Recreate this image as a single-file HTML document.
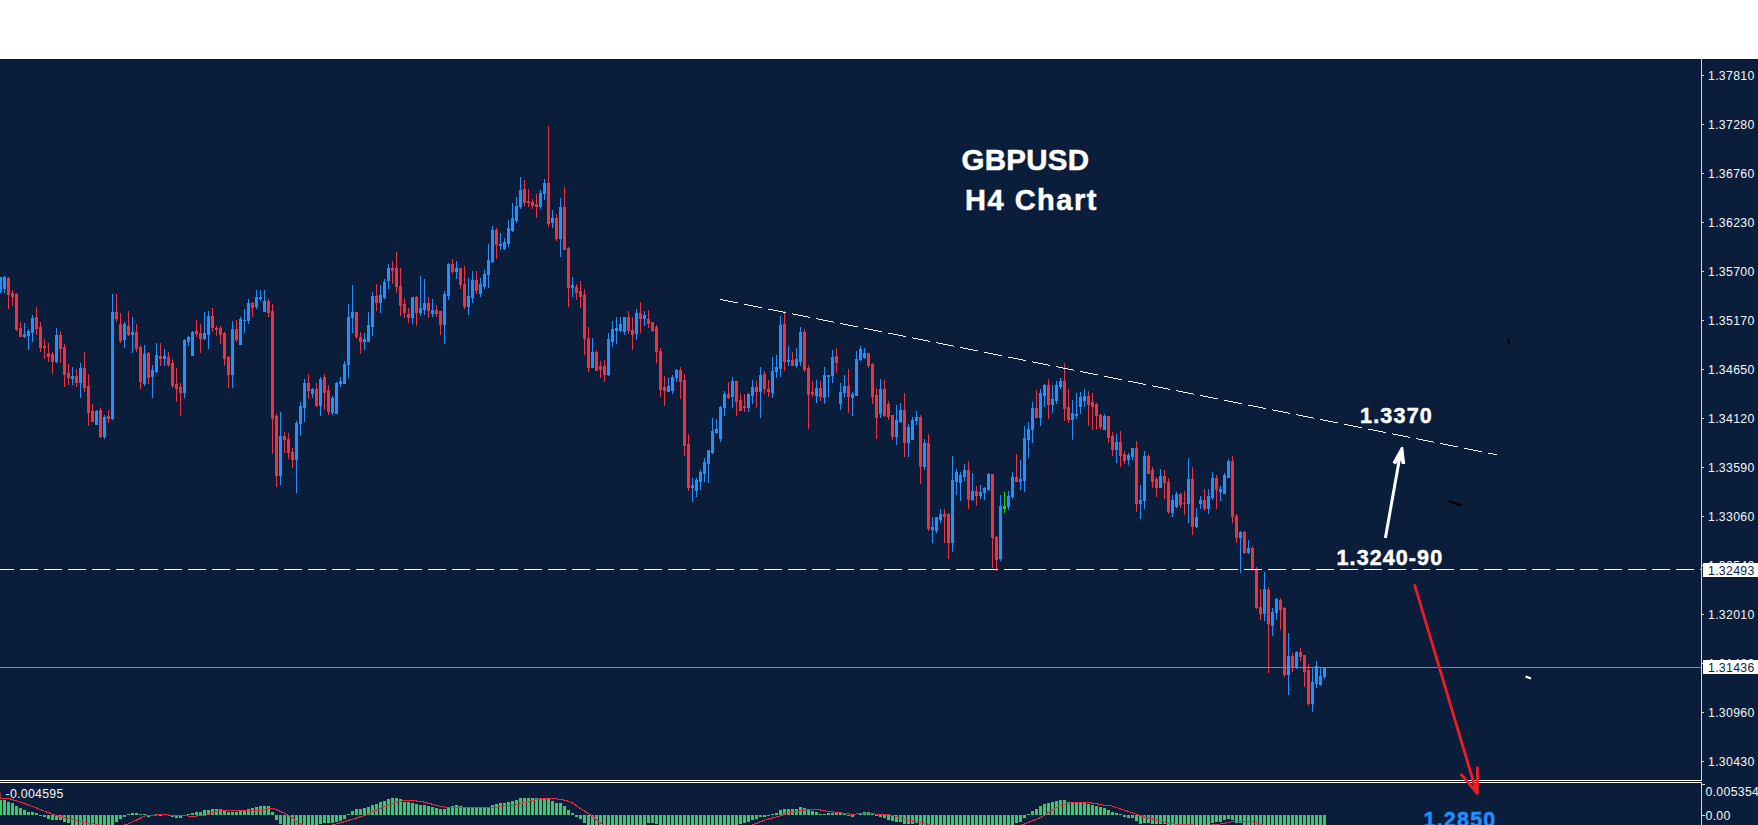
<!DOCTYPE html>
<html><head><meta charset="utf-8"><title>GBPUSD H4</title>
<style>
html,body{margin:0;padding:0;width:1758px;height:825px;overflow:hidden;background:#ffffff}
svg{display:block;position:absolute;left:0;top:0}
text{font-family:"Liberation Sans",sans-serif}
</style></head><body>
<svg width="1758" height="825" viewBox="0 0 1758 825">
<rect x="0" y="0" width="1758" height="59" fill="#ffffff"/>
<rect x="0" y="59" width="1758" height="766" fill="#0a1e3c"/>
<rect x="0" y="59" width="1758" height="1" fill="#041533"/>
<g shape-rendering="crispEdges">
<rect x="0" y="277" width="1" height="16" fill="#2490fa"/>
<rect x="-1" y="277" width="3" height="15" fill="#2490fa"/>
<rect x="4" y="276" width="1" height="17" fill="#2490fa"/>
<rect x="3" y="277" width="3" height="12" fill="#2490fa"/>
<rect x="8" y="277" width="1" height="32" fill="#ee3340"/>
<rect x="7" y="278" width="3" height="17" fill="#ee3340"/>
<rect x="12" y="290" width="1" height="16" fill="#ee3340"/>
<rect x="11" y="293" width="3" height="4" fill="#ee3340"/>
<rect x="16" y="293" width="1" height="38" fill="#ee3340"/>
<rect x="15" y="294" width="3" height="36" fill="#ee3340"/>
<rect x="20" y="322" width="1" height="15" fill="#ee3340"/>
<rect x="19" y="328" width="3" height="9" fill="#ee3340"/>
<rect x="24" y="323" width="1" height="15" fill="#2490fa"/>
<rect x="23" y="334" width="3" height="3" fill="#2490fa"/>
<rect x="28" y="329" width="1" height="21" fill="#2490fa"/>
<rect x="27" y="331" width="3" height="5" fill="#2490fa"/>
<rect x="32" y="315" width="1" height="27" fill="#2490fa"/>
<rect x="31" y="318" width="3" height="15" fill="#2490fa"/>
<rect x="36" y="307" width="1" height="28" fill="#ee3340"/>
<rect x="35" y="317" width="3" height="12" fill="#ee3340"/>
<rect x="40" y="322" width="1" height="30" fill="#ee3340"/>
<rect x="39" y="327" width="3" height="21" fill="#ee3340"/>
<rect x="44" y="339" width="1" height="20" fill="#ee3340"/>
<rect x="43" y="346" width="3" height="2" fill="#ee3340"/>
<rect x="48" y="343" width="1" height="19" fill="#ee3340"/>
<rect x="47" y="353" width="3" height="4" fill="#ee3340"/>
<rect x="52" y="352" width="1" height="22" fill="#ee3340"/>
<rect x="51" y="354" width="3" height="8" fill="#ee3340"/>
<rect x="56" y="328" width="1" height="35" fill="#2490fa"/>
<rect x="55" y="335" width="3" height="27" fill="#2490fa"/>
<rect x="60" y="331" width="1" height="32" fill="#ee3340"/>
<rect x="59" y="335" width="3" height="14" fill="#ee3340"/>
<rect x="64" y="344" width="1" height="43" fill="#ee3340"/>
<rect x="63" y="347" width="3" height="28" fill="#ee3340"/>
<rect x="68" y="364" width="1" height="21" fill="#ee3340"/>
<rect x="67" y="373" width="3" height="5" fill="#ee3340"/>
<rect x="72" y="367" width="1" height="18" fill="#2490fa"/>
<rect x="71" y="376" width="3" height="3" fill="#2490fa"/>
<rect x="76" y="369" width="1" height="18" fill="#ee3340"/>
<rect x="75" y="376" width="3" height="7" fill="#ee3340"/>
<rect x="80" y="363" width="1" height="35" fill="#2490fa"/>
<rect x="79" y="368" width="3" height="15" fill="#2490fa"/>
<rect x="84" y="352" width="1" height="40" fill="#ee3340"/>
<rect x="83" y="368" width="3" height="20" fill="#ee3340"/>
<rect x="88" y="374" width="1" height="52" fill="#ee3340"/>
<rect x="87" y="386" width="3" height="27" fill="#ee3340"/>
<rect x="92" y="404" width="1" height="18" fill="#ee3340"/>
<rect x="91" y="411" width="3" height="11" fill="#ee3340"/>
<rect x="96" y="410" width="1" height="15" fill="#2490fa"/>
<rect x="95" y="411" width="3" height="14" fill="#2490fa"/>
<rect x="100" y="408" width="1" height="30" fill="#ee3340"/>
<rect x="99" y="410" width="3" height="27" fill="#ee3340"/>
<rect x="104" y="415" width="1" height="24" fill="#2490fa"/>
<rect x="103" y="417" width="3" height="20" fill="#2490fa"/>
<rect x="108" y="410" width="1" height="13" fill="#ee3340"/>
<rect x="107" y="416" width="3" height="3" fill="#ee3340"/>
<rect x="112" y="294" width="1" height="126" fill="#2490fa"/>
<rect x="111" y="312" width="3" height="107" fill="#2490fa"/>
<rect x="116" y="294" width="1" height="28" fill="#ee3340"/>
<rect x="115" y="312" width="3" height="7" fill="#ee3340"/>
<rect x="120" y="313" width="1" height="30" fill="#ee3340"/>
<rect x="119" y="324" width="3" height="17" fill="#ee3340"/>
<rect x="124" y="322" width="1" height="26" fill="#2490fa"/>
<rect x="123" y="324" width="3" height="16" fill="#2490fa"/>
<rect x="128" y="311" width="1" height="25" fill="#ee3340"/>
<rect x="127" y="326" width="3" height="9" fill="#ee3340"/>
<rect x="132" y="317" width="1" height="36" fill="#2490fa"/>
<rect x="131" y="332" width="3" height="3" fill="#2490fa"/>
<rect x="136" y="324" width="1" height="28" fill="#ee3340"/>
<rect x="135" y="332" width="3" height="17" fill="#ee3340"/>
<rect x="140" y="345" width="1" height="44" fill="#ee3340"/>
<rect x="139" y="347" width="3" height="35" fill="#ee3340"/>
<rect x="144" y="345" width="1" height="41" fill="#2490fa"/>
<rect x="143" y="354" width="3" height="30" fill="#2490fa"/>
<rect x="148" y="352" width="1" height="32" fill="#ee3340"/>
<rect x="147" y="353" width="3" height="25" fill="#ee3340"/>
<rect x="152" y="365" width="1" height="33" fill="#2490fa"/>
<rect x="151" y="370" width="3" height="7" fill="#2490fa"/>
<rect x="156" y="343" width="1" height="30" fill="#2490fa"/>
<rect x="155" y="355" width="3" height="17" fill="#2490fa"/>
<rect x="160" y="343" width="1" height="23" fill="#ee3340"/>
<rect x="159" y="356" width="3" height="3" fill="#ee3340"/>
<rect x="164" y="349" width="1" height="17" fill="#2490fa"/>
<rect x="163" y="356" width="3" height="3" fill="#2490fa"/>
<rect x="168" y="352" width="1" height="15" fill="#ee3340"/>
<rect x="167" y="357" width="3" height="8" fill="#ee3340"/>
<rect x="172" y="359" width="1" height="29" fill="#ee3340"/>
<rect x="171" y="363" width="3" height="23" fill="#ee3340"/>
<rect x="176" y="368" width="1" height="34" fill="#ee3340"/>
<rect x="175" y="384" width="3" height="5" fill="#ee3340"/>
<rect x="180" y="383" width="1" height="33" fill="#ee3340"/>
<rect x="179" y="387" width="3" height="6" fill="#ee3340"/>
<rect x="184" y="339" width="1" height="59" fill="#2490fa"/>
<rect x="183" y="340" width="3" height="53" fill="#2490fa"/>
<rect x="188" y="336" width="1" height="10" fill="#2490fa"/>
<rect x="187" y="337" width="3" height="5" fill="#2490fa"/>
<rect x="192" y="331" width="1" height="25" fill="#2490fa"/>
<rect x="191" y="332" width="3" height="24" fill="#2490fa"/>
<rect x="196" y="320" width="1" height="17" fill="#ee3340"/>
<rect x="195" y="331" width="3" height="3" fill="#ee3340"/>
<rect x="200" y="324" width="1" height="29" fill="#ee3340"/>
<rect x="199" y="333" width="3" height="6" fill="#ee3340"/>
<rect x="204" y="312" width="1" height="28" fill="#2490fa"/>
<rect x="203" y="333" width="3" height="6" fill="#2490fa"/>
<rect x="208" y="311" width="1" height="38" fill="#2490fa"/>
<rect x="207" y="316" width="3" height="19" fill="#2490fa"/>
<rect x="212" y="308" width="1" height="24" fill="#ee3340"/>
<rect x="211" y="316" width="3" height="12" fill="#ee3340"/>
<rect x="216" y="326" width="1" height="10" fill="#ee3340"/>
<rect x="215" y="328" width="3" height="2" fill="#ee3340"/>
<rect x="220" y="326" width="1" height="18" fill="#ee3340"/>
<rect x="219" y="328" width="3" height="7" fill="#ee3340"/>
<rect x="224" y="332" width="1" height="34" fill="#ee3340"/>
<rect x="223" y="333" width="3" height="26" fill="#ee3340"/>
<rect x="228" y="356" width="1" height="32" fill="#ee3340"/>
<rect x="227" y="357" width="3" height="18" fill="#ee3340"/>
<rect x="232" y="321" width="1" height="67" fill="#2490fa"/>
<rect x="231" y="329" width="3" height="46" fill="#2490fa"/>
<rect x="236" y="320" width="1" height="22" fill="#ee3340"/>
<rect x="235" y="329" width="3" height="11" fill="#ee3340"/>
<rect x="240" y="317" width="1" height="28" fill="#2490fa"/>
<rect x="239" y="319" width="3" height="26" fill="#2490fa"/>
<rect x="244" y="309" width="1" height="24" fill="#2490fa"/>
<rect x="243" y="320" width="3" height="1" fill="#2490fa"/>
<rect x="248" y="299" width="1" height="25" fill="#2490fa"/>
<rect x="247" y="303" width="3" height="18" fill="#2490fa"/>
<rect x="252" y="302" width="1" height="15" fill="#ee3340"/>
<rect x="251" y="303" width="3" height="5" fill="#ee3340"/>
<rect x="256" y="290" width="1" height="19" fill="#2490fa"/>
<rect x="255" y="297" width="3" height="10" fill="#2490fa"/>
<rect x="260" y="290" width="1" height="11" fill="#2490fa"/>
<rect x="259" y="297" width="3" height="2" fill="#2490fa"/>
<rect x="264" y="290" width="1" height="22" fill="#2490fa"/>
<rect x="263" y="301" width="3" height="11" fill="#2490fa"/>
<rect x="268" y="299" width="1" height="18" fill="#ee3340"/>
<rect x="267" y="301" width="3" height="12" fill="#ee3340"/>
<rect x="272" y="304" width="1" height="150" fill="#ee3340"/>
<rect x="271" y="311" width="3" height="108" fill="#ee3340"/>
<rect x="276" y="414" width="1" height="73" fill="#ee3340"/>
<rect x="275" y="416" width="3" height="60" fill="#ee3340"/>
<rect x="280" y="412" width="1" height="73" fill="#2490fa"/>
<rect x="279" y="436" width="3" height="40" fill="#2490fa"/>
<rect x="284" y="432" width="1" height="21" fill="#ee3340"/>
<rect x="283" y="436" width="3" height="4" fill="#ee3340"/>
<rect x="288" y="433" width="1" height="26" fill="#ee3340"/>
<rect x="287" y="439" width="3" height="14" fill="#ee3340"/>
<rect x="292" y="448" width="1" height="20" fill="#ee3340"/>
<rect x="291" y="452" width="3" height="8" fill="#ee3340"/>
<rect x="296" y="421" width="1" height="72" fill="#2490fa"/>
<rect x="295" y="423" width="3" height="37" fill="#2490fa"/>
<rect x="300" y="402" width="1" height="34" fill="#2490fa"/>
<rect x="299" y="406" width="3" height="18" fill="#2490fa"/>
<rect x="304" y="379" width="1" height="43" fill="#2490fa"/>
<rect x="303" y="383" width="3" height="25" fill="#2490fa"/>
<rect x="308" y="374" width="1" height="25" fill="#ee3340"/>
<rect x="307" y="383" width="3" height="8" fill="#ee3340"/>
<rect x="312" y="388" width="1" height="10" fill="#2490fa"/>
<rect x="311" y="389" width="3" height="5" fill="#2490fa"/>
<rect x="316" y="383" width="1" height="24" fill="#ee3340"/>
<rect x="315" y="389" width="3" height="17" fill="#ee3340"/>
<rect x="320" y="377" width="1" height="39" fill="#2490fa"/>
<rect x="319" y="379" width="3" height="27" fill="#2490fa"/>
<rect x="324" y="374" width="1" height="36" fill="#ee3340"/>
<rect x="323" y="377" width="3" height="16" fill="#ee3340"/>
<rect x="328" y="385" width="1" height="30" fill="#ee3340"/>
<rect x="327" y="390" width="3" height="22" fill="#ee3340"/>
<rect x="332" y="396" width="1" height="19" fill="#2490fa"/>
<rect x="331" y="398" width="3" height="15" fill="#2490fa"/>
<rect x="336" y="382" width="1" height="32" fill="#2490fa"/>
<rect x="335" y="383" width="3" height="31" fill="#2490fa"/>
<rect x="340" y="377" width="1" height="10" fill="#2490fa"/>
<rect x="339" y="381" width="3" height="3" fill="#2490fa"/>
<rect x="344" y="361" width="1" height="23" fill="#2490fa"/>
<rect x="343" y="364" width="3" height="20" fill="#2490fa"/>
<rect x="348" y="304" width="1" height="74" fill="#2490fa"/>
<rect x="347" y="317" width="3" height="48" fill="#2490fa"/>
<rect x="352" y="285" width="1" height="48" fill="#2490fa"/>
<rect x="351" y="312" width="3" height="6" fill="#2490fa"/>
<rect x="356" y="312" width="1" height="27" fill="#ee3340"/>
<rect x="355" y="312" width="3" height="25" fill="#ee3340"/>
<rect x="360" y="332" width="1" height="22" fill="#ee3340"/>
<rect x="359" y="337" width="3" height="5" fill="#ee3340"/>
<rect x="364" y="333" width="1" height="17" fill="#2490fa"/>
<rect x="363" y="339" width="3" height="3" fill="#2490fa"/>
<rect x="368" y="312" width="1" height="30" fill="#2490fa"/>
<rect x="367" y="325" width="3" height="17" fill="#2490fa"/>
<rect x="372" y="292" width="1" height="44" fill="#2490fa"/>
<rect x="371" y="296" width="3" height="31" fill="#2490fa"/>
<rect x="376" y="284" width="1" height="27" fill="#ee3340"/>
<rect x="375" y="296" width="3" height="7" fill="#ee3340"/>
<rect x="380" y="285" width="1" height="28" fill="#2490fa"/>
<rect x="379" y="295" width="3" height="8" fill="#2490fa"/>
<rect x="384" y="279" width="1" height="20" fill="#2490fa"/>
<rect x="383" y="282" width="3" height="16" fill="#2490fa"/>
<rect x="388" y="264" width="1" height="25" fill="#2490fa"/>
<rect x="387" y="268" width="3" height="13" fill="#2490fa"/>
<rect x="392" y="261" width="1" height="23" fill="#ee3340"/>
<rect x="391" y="268" width="3" height="3" fill="#ee3340"/>
<rect x="396" y="252" width="1" height="41" fill="#ee3340"/>
<rect x="395" y="268" width="3" height="19" fill="#ee3340"/>
<rect x="400" y="268" width="1" height="48" fill="#ee3340"/>
<rect x="399" y="286" width="3" height="20" fill="#ee3340"/>
<rect x="404" y="298" width="1" height="20" fill="#ee3340"/>
<rect x="403" y="304" width="3" height="9" fill="#ee3340"/>
<rect x="408" y="308" width="1" height="15" fill="#ee3340"/>
<rect x="407" y="314" width="3" height="4" fill="#ee3340"/>
<rect x="412" y="297" width="1" height="27" fill="#2490fa"/>
<rect x="411" y="297" width="3" height="21" fill="#2490fa"/>
<rect x="416" y="296" width="1" height="30" fill="#ee3340"/>
<rect x="415" y="297" width="3" height="16" fill="#ee3340"/>
<rect x="420" y="276" width="1" height="40" fill="#2490fa"/>
<rect x="419" y="308" width="3" height="5" fill="#2490fa"/>
<rect x="424" y="279" width="1" height="36" fill="#2490fa"/>
<rect x="423" y="303" width="3" height="7" fill="#2490fa"/>
<rect x="428" y="297" width="1" height="21" fill="#ee3340"/>
<rect x="427" y="303" width="3" height="8" fill="#ee3340"/>
<rect x="432" y="299" width="1" height="18" fill="#2490fa"/>
<rect x="431" y="310" width="3" height="4" fill="#2490fa"/>
<rect x="436" y="305" width="1" height="12" fill="#ee3340"/>
<rect x="435" y="310" width="3" height="4" fill="#ee3340"/>
<rect x="440" y="311" width="1" height="24" fill="#ee3340"/>
<rect x="439" y="311" width="3" height="14" fill="#ee3340"/>
<rect x="444" y="291" width="1" height="53" fill="#2490fa"/>
<rect x="443" y="294" width="3" height="31" fill="#2490fa"/>
<rect x="448" y="263" width="1" height="37" fill="#2490fa"/>
<rect x="447" y="264" width="3" height="32" fill="#2490fa"/>
<rect x="452" y="259" width="1" height="15" fill="#ee3340"/>
<rect x="451" y="264" width="3" height="8" fill="#ee3340"/>
<rect x="456" y="261" width="1" height="18" fill="#2490fa"/>
<rect x="455" y="268" width="3" height="4" fill="#2490fa"/>
<rect x="460" y="268" width="1" height="21" fill="#ee3340"/>
<rect x="459" y="268" width="3" height="17" fill="#ee3340"/>
<rect x="464" y="266" width="1" height="43" fill="#ee3340"/>
<rect x="463" y="284" width="3" height="23" fill="#ee3340"/>
<rect x="468" y="278" width="1" height="37" fill="#2490fa"/>
<rect x="467" y="296" width="3" height="11" fill="#2490fa"/>
<rect x="472" y="271" width="1" height="32" fill="#2490fa"/>
<rect x="471" y="280" width="3" height="18" fill="#2490fa"/>
<rect x="476" y="271" width="1" height="23" fill="#ee3340"/>
<rect x="475" y="280" width="3" height="11" fill="#ee3340"/>
<rect x="480" y="278" width="1" height="19" fill="#2490fa"/>
<rect x="479" y="284" width="3" height="10" fill="#2490fa"/>
<rect x="484" y="270" width="1" height="19" fill="#2490fa"/>
<rect x="483" y="274" width="3" height="13" fill="#2490fa"/>
<rect x="488" y="244" width="1" height="44" fill="#2490fa"/>
<rect x="487" y="260" width="3" height="15" fill="#2490fa"/>
<rect x="492" y="226" width="1" height="37" fill="#2490fa"/>
<rect x="491" y="230" width="3" height="32" fill="#2490fa"/>
<rect x="496" y="228" width="1" height="31" fill="#ee3340"/>
<rect x="495" y="230" width="3" height="15" fill="#ee3340"/>
<rect x="500" y="233" width="1" height="17" fill="#2490fa"/>
<rect x="499" y="244" width="3" height="2" fill="#2490fa"/>
<rect x="504" y="238" width="1" height="12" fill="#2490fa"/>
<rect x="503" y="242" width="3" height="7" fill="#2490fa"/>
<rect x="508" y="220" width="1" height="27" fill="#2490fa"/>
<rect x="507" y="228" width="3" height="16" fill="#2490fa"/>
<rect x="512" y="203" width="1" height="29" fill="#2490fa"/>
<rect x="511" y="218" width="3" height="13" fill="#2490fa"/>
<rect x="516" y="197" width="1" height="26" fill="#2490fa"/>
<rect x="515" y="206" width="3" height="15" fill="#2490fa"/>
<rect x="520" y="177" width="1" height="32" fill="#2490fa"/>
<rect x="519" y="190" width="3" height="17" fill="#2490fa"/>
<rect x="524" y="180" width="1" height="26" fill="#ee3340"/>
<rect x="523" y="189" width="3" height="14" fill="#ee3340"/>
<rect x="528" y="189" width="1" height="18" fill="#ee3340"/>
<rect x="527" y="201" width="3" height="2" fill="#ee3340"/>
<rect x="532" y="199" width="1" height="10" fill="#ee3340"/>
<rect x="531" y="202" width="3" height="4" fill="#ee3340"/>
<rect x="536" y="194" width="1" height="24" fill="#ee3340"/>
<rect x="535" y="204" width="3" height="3" fill="#ee3340"/>
<rect x="540" y="190" width="1" height="19" fill="#2490fa"/>
<rect x="539" y="193" width="3" height="14" fill="#2490fa"/>
<rect x="544" y="179" width="1" height="21" fill="#2490fa"/>
<rect x="543" y="183" width="3" height="11" fill="#2490fa"/>
<rect x="548" y="126" width="1" height="101" fill="#ee3340"/>
<rect x="547" y="183" width="3" height="41" fill="#ee3340"/>
<rect x="552" y="210" width="1" height="18" fill="#2490fa"/>
<rect x="551" y="218" width="3" height="5" fill="#2490fa"/>
<rect x="556" y="214" width="1" height="27" fill="#ee3340"/>
<rect x="555" y="218" width="3" height="21" fill="#ee3340"/>
<rect x="560" y="198" width="1" height="59" fill="#2490fa"/>
<rect x="559" y="207" width="3" height="32" fill="#2490fa"/>
<rect x="564" y="187" width="1" height="63" fill="#ee3340"/>
<rect x="563" y="207" width="3" height="43" fill="#ee3340"/>
<rect x="568" y="247" width="1" height="60" fill="#ee3340"/>
<rect x="567" y="248" width="3" height="40" fill="#ee3340"/>
<rect x="572" y="277" width="1" height="20" fill="#2490fa"/>
<rect x="571" y="285" width="3" height="3" fill="#2490fa"/>
<rect x="576" y="284" width="1" height="16" fill="#ee3340"/>
<rect x="575" y="287" width="3" height="6" fill="#ee3340"/>
<rect x="580" y="281" width="1" height="27" fill="#ee3340"/>
<rect x="579" y="291" width="3" height="6" fill="#ee3340"/>
<rect x="584" y="289" width="1" height="66" fill="#ee3340"/>
<rect x="583" y="295" width="3" height="44" fill="#ee3340"/>
<rect x="588" y="327" width="1" height="45" fill="#ee3340"/>
<rect x="587" y="338" width="3" height="30" fill="#ee3340"/>
<rect x="592" y="338" width="1" height="30" fill="#2490fa"/>
<rect x="591" y="352" width="3" height="16" fill="#2490fa"/>
<rect x="596" y="350" width="1" height="21" fill="#ee3340"/>
<rect x="595" y="352" width="3" height="19" fill="#ee3340"/>
<rect x="600" y="361" width="1" height="17" fill="#ee3340"/>
<rect x="599" y="366" width="3" height="4" fill="#ee3340"/>
<rect x="604" y="360" width="1" height="22" fill="#ee3340"/>
<rect x="603" y="366" width="3" height="9" fill="#ee3340"/>
<rect x="608" y="333" width="1" height="43" fill="#2490fa"/>
<rect x="607" y="339" width="3" height="36" fill="#2490fa"/>
<rect x="612" y="321" width="1" height="26" fill="#2490fa"/>
<rect x="611" y="329" width="3" height="13" fill="#2490fa"/>
<rect x="616" y="317" width="1" height="27" fill="#2490fa"/>
<rect x="615" y="328" width="3" height="3" fill="#2490fa"/>
<rect x="620" y="317" width="1" height="15" fill="#2490fa"/>
<rect x="619" y="324" width="3" height="7" fill="#2490fa"/>
<rect x="624" y="317" width="1" height="18" fill="#2490fa"/>
<rect x="623" y="317" width="3" height="15" fill="#2490fa"/>
<rect x="628" y="311" width="1" height="23" fill="#ee3340"/>
<rect x="627" y="317" width="3" height="14" fill="#ee3340"/>
<rect x="632" y="317" width="1" height="33" fill="#ee3340"/>
<rect x="631" y="330" width="3" height="5" fill="#ee3340"/>
<rect x="636" y="309" width="1" height="31" fill="#2490fa"/>
<rect x="635" y="313" width="3" height="21" fill="#2490fa"/>
<rect x="640" y="302" width="1" height="31" fill="#ee3340"/>
<rect x="639" y="313" width="3" height="6" fill="#ee3340"/>
<rect x="644" y="311" width="1" height="15" fill="#2490fa"/>
<rect x="643" y="315" width="3" height="4" fill="#2490fa"/>
<rect x="648" y="310" width="1" height="18" fill="#ee3340"/>
<rect x="647" y="319" width="3" height="5" fill="#ee3340"/>
<rect x="652" y="322" width="1" height="10" fill="#ee3340"/>
<rect x="651" y="322" width="3" height="9" fill="#ee3340"/>
<rect x="656" y="325" width="1" height="38" fill="#ee3340"/>
<rect x="655" y="327" width="3" height="25" fill="#ee3340"/>
<rect x="660" y="348" width="1" height="49" fill="#ee3340"/>
<rect x="659" y="351" width="3" height="39" fill="#ee3340"/>
<rect x="664" y="376" width="1" height="30" fill="#ee3340"/>
<rect x="663" y="387" width="3" height="4" fill="#ee3340"/>
<rect x="668" y="378" width="1" height="14" fill="#2490fa"/>
<rect x="667" y="386" width="3" height="6" fill="#2490fa"/>
<rect x="672" y="375" width="1" height="19" fill="#2490fa"/>
<rect x="671" y="377" width="3" height="14" fill="#2490fa"/>
<rect x="676" y="369" width="1" height="13" fill="#2490fa"/>
<rect x="675" y="370" width="3" height="8" fill="#2490fa"/>
<rect x="680" y="367" width="1" height="32" fill="#ee3340"/>
<rect x="679" y="370" width="3" height="12" fill="#ee3340"/>
<rect x="684" y="374" width="1" height="82" fill="#ee3340"/>
<rect x="683" y="380" width="3" height="66" fill="#ee3340"/>
<rect x="688" y="434" width="1" height="57" fill="#ee3340"/>
<rect x="687" y="444" width="3" height="44" fill="#ee3340"/>
<rect x="692" y="478" width="1" height="24" fill="#2490fa"/>
<rect x="691" y="485" width="3" height="3" fill="#2490fa"/>
<rect x="696" y="478" width="1" height="19" fill="#2490fa"/>
<rect x="695" y="480" width="3" height="11" fill="#2490fa"/>
<rect x="700" y="470" width="1" height="20" fill="#2490fa"/>
<rect x="699" y="472" width="3" height="10" fill="#2490fa"/>
<rect x="704" y="458" width="1" height="24" fill="#2490fa"/>
<rect x="703" y="462" width="3" height="12" fill="#2490fa"/>
<rect x="708" y="450" width="1" height="33" fill="#2490fa"/>
<rect x="707" y="450" width="3" height="14" fill="#2490fa"/>
<rect x="712" y="418" width="1" height="36" fill="#2490fa"/>
<rect x="711" y="431" width="3" height="22" fill="#2490fa"/>
<rect x="716" y="419" width="1" height="15" fill="#2490fa"/>
<rect x="715" y="429" width="3" height="4" fill="#2490fa"/>
<rect x="720" y="406" width="1" height="36" fill="#2490fa"/>
<rect x="719" y="407" width="3" height="32" fill="#2490fa"/>
<rect x="724" y="391" width="1" height="25" fill="#2490fa"/>
<rect x="723" y="394" width="3" height="14" fill="#2490fa"/>
<rect x="728" y="382" width="1" height="17" fill="#ee3340"/>
<rect x="727" y="394" width="3" height="4" fill="#ee3340"/>
<rect x="732" y="377" width="1" height="31" fill="#2490fa"/>
<rect x="731" y="381" width="3" height="16" fill="#2490fa"/>
<rect x="736" y="381" width="1" height="35" fill="#ee3340"/>
<rect x="735" y="381" width="3" height="21" fill="#ee3340"/>
<rect x="740" y="394" width="1" height="17" fill="#ee3340"/>
<rect x="739" y="400" width="3" height="11" fill="#ee3340"/>
<rect x="744" y="394" width="1" height="18" fill="#ee3340"/>
<rect x="743" y="406" width="3" height="2" fill="#ee3340"/>
<rect x="748" y="393" width="1" height="19" fill="#2490fa"/>
<rect x="747" y="394" width="3" height="14" fill="#2490fa"/>
<rect x="752" y="380" width="1" height="24" fill="#2490fa"/>
<rect x="751" y="387" width="3" height="9" fill="#2490fa"/>
<rect x="756" y="381" width="1" height="27" fill="#ee3340"/>
<rect x="755" y="387" width="3" height="5" fill="#ee3340"/>
<rect x="760" y="367" width="1" height="51" fill="#2490fa"/>
<rect x="759" y="375" width="3" height="17" fill="#2490fa"/>
<rect x="764" y="371" width="1" height="23" fill="#ee3340"/>
<rect x="763" y="374" width="3" height="15" fill="#ee3340"/>
<rect x="768" y="380" width="1" height="17" fill="#ee3340"/>
<rect x="767" y="389" width="3" height="3" fill="#ee3340"/>
<rect x="772" y="357" width="1" height="41" fill="#2490fa"/>
<rect x="771" y="371" width="3" height="22" fill="#2490fa"/>
<rect x="776" y="355" width="1" height="23" fill="#2490fa"/>
<rect x="775" y="367" width="3" height="5" fill="#2490fa"/>
<rect x="780" y="316" width="1" height="61" fill="#2490fa"/>
<rect x="779" y="325" width="3" height="44" fill="#2490fa"/>
<rect x="784" y="311" width="1" height="60" fill="#ee3340"/>
<rect x="783" y="324" width="3" height="38" fill="#ee3340"/>
<rect x="788" y="346" width="1" height="20" fill="#2490fa"/>
<rect x="787" y="360" width="3" height="2" fill="#2490fa"/>
<rect x="792" y="352" width="1" height="14" fill="#ee3340"/>
<rect x="791" y="360" width="3" height="6" fill="#ee3340"/>
<rect x="796" y="348" width="1" height="20" fill="#2490fa"/>
<rect x="795" y="359" width="3" height="7" fill="#2490fa"/>
<rect x="800" y="327" width="1" height="39" fill="#2490fa"/>
<rect x="799" y="332" width="3" height="30" fill="#2490fa"/>
<rect x="804" y="329" width="1" height="43" fill="#ee3340"/>
<rect x="803" y="332" width="3" height="38" fill="#ee3340"/>
<rect x="808" y="365" width="1" height="64" fill="#ee3340"/>
<rect x="807" y="368" width="3" height="27" fill="#ee3340"/>
<rect x="812" y="381" width="1" height="16" fill="#ee3340"/>
<rect x="811" y="392" width="3" height="2" fill="#ee3340"/>
<rect x="816" y="380" width="1" height="23" fill="#2490fa"/>
<rect x="815" y="388" width="3" height="8" fill="#2490fa"/>
<rect x="820" y="381" width="1" height="20" fill="#ee3340"/>
<rect x="819" y="388" width="3" height="9" fill="#ee3340"/>
<rect x="824" y="367" width="1" height="37" fill="#2490fa"/>
<rect x="823" y="375" width="3" height="23" fill="#2490fa"/>
<rect x="828" y="375" width="1" height="22" fill="#2490fa"/>
<rect x="827" y="375" width="3" height="2" fill="#2490fa"/>
<rect x="832" y="350" width="1" height="33" fill="#2490fa"/>
<rect x="831" y="357" width="3" height="19" fill="#2490fa"/>
<rect x="836" y="348" width="1" height="25" fill="#ee3340"/>
<rect x="835" y="356" width="3" height="7" fill="#ee3340"/>
<rect x="840" y="383" width="1" height="27" fill="#2490fa"/>
<rect x="839" y="392" width="3" height="12" fill="#2490fa"/>
<rect x="844" y="375" width="1" height="22" fill="#2490fa"/>
<rect x="843" y="386" width="3" height="7" fill="#2490fa"/>
<rect x="848" y="369" width="1" height="44" fill="#ee3340"/>
<rect x="847" y="386" width="3" height="11" fill="#ee3340"/>
<rect x="852" y="392" width="1" height="24" fill="#2490fa"/>
<rect x="851" y="394" width="3" height="4" fill="#2490fa"/>
<rect x="856" y="351" width="1" height="45" fill="#2490fa"/>
<rect x="855" y="359" width="3" height="37" fill="#2490fa"/>
<rect x="860" y="346" width="1" height="15" fill="#2490fa"/>
<rect x="859" y="349" width="3" height="11" fill="#2490fa"/>
<rect x="864" y="348" width="1" height="11" fill="#2490fa"/>
<rect x="863" y="353" width="3" height="5" fill="#2490fa"/>
<rect x="868" y="353" width="1" height="15" fill="#ee3340"/>
<rect x="867" y="353" width="3" height="13" fill="#ee3340"/>
<rect x="872" y="363" width="1" height="41" fill="#ee3340"/>
<rect x="871" y="364" width="3" height="33" fill="#ee3340"/>
<rect x="876" y="388" width="1" height="51" fill="#ee3340"/>
<rect x="875" y="395" width="3" height="23" fill="#ee3340"/>
<rect x="880" y="379" width="1" height="39" fill="#2490fa"/>
<rect x="879" y="389" width="3" height="25" fill="#2490fa"/>
<rect x="884" y="380" width="1" height="37" fill="#ee3340"/>
<rect x="883" y="389" width="3" height="27" fill="#ee3340"/>
<rect x="888" y="401" width="1" height="19" fill="#ee3340"/>
<rect x="887" y="404" width="3" height="13" fill="#ee3340"/>
<rect x="892" y="415" width="1" height="25" fill="#ee3340"/>
<rect x="891" y="415" width="3" height="22" fill="#ee3340"/>
<rect x="896" y="405" width="1" height="40" fill="#2490fa"/>
<rect x="895" y="420" width="3" height="17" fill="#2490fa"/>
<rect x="900" y="403" width="1" height="20" fill="#2490fa"/>
<rect x="899" y="410" width="3" height="12" fill="#2490fa"/>
<rect x="904" y="393" width="1" height="64" fill="#ee3340"/>
<rect x="903" y="410" width="3" height="33" fill="#ee3340"/>
<rect x="908" y="424" width="1" height="33" fill="#2490fa"/>
<rect x="907" y="427" width="3" height="16" fill="#2490fa"/>
<rect x="912" y="417" width="1" height="23" fill="#2490fa"/>
<rect x="911" y="420" width="3" height="20" fill="#2490fa"/>
<rect x="916" y="411" width="1" height="14" fill="#2490fa"/>
<rect x="915" y="417" width="3" height="4" fill="#2490fa"/>
<rect x="920" y="415" width="1" height="69" fill="#ee3340"/>
<rect x="919" y="417" width="3" height="50" fill="#ee3340"/>
<rect x="924" y="439" width="1" height="31" fill="#2490fa"/>
<rect x="923" y="443" width="3" height="24" fill="#2490fa"/>
<rect x="928" y="434" width="1" height="97" fill="#ee3340"/>
<rect x="927" y="443" width="3" height="86" fill="#ee3340"/>
<rect x="932" y="517" width="1" height="26" fill="#2490fa"/>
<rect x="931" y="527" width="3" height="3" fill="#2490fa"/>
<rect x="936" y="517" width="1" height="16" fill="#2490fa"/>
<rect x="935" y="517" width="3" height="14" fill="#2490fa"/>
<rect x="940" y="509" width="1" height="14" fill="#2490fa"/>
<rect x="939" y="514" width="3" height="6" fill="#2490fa"/>
<rect x="944" y="509" width="1" height="34" fill="#ee3340"/>
<rect x="943" y="514" width="3" height="3" fill="#ee3340"/>
<rect x="948" y="513" width="1" height="46" fill="#ee3340"/>
<rect x="947" y="514" width="3" height="29" fill="#ee3340"/>
<rect x="952" y="456" width="1" height="96" fill="#2490fa"/>
<rect x="951" y="480" width="3" height="63" fill="#2490fa"/>
<rect x="956" y="469" width="1" height="26" fill="#2490fa"/>
<rect x="955" y="472" width="3" height="10" fill="#2490fa"/>
<rect x="960" y="472" width="1" height="29" fill="#2490fa"/>
<rect x="959" y="475" width="3" height="8" fill="#2490fa"/>
<rect x="964" y="464" width="1" height="17" fill="#2490fa"/>
<rect x="963" y="470" width="3" height="7" fill="#2490fa"/>
<rect x="968" y="461" width="1" height="48" fill="#ee3340"/>
<rect x="967" y="470" width="3" height="30" fill="#ee3340"/>
<rect x="972" y="473" width="1" height="28" fill="#2490fa"/>
<rect x="971" y="491" width="3" height="9" fill="#2490fa"/>
<rect x="976" y="486" width="1" height="20" fill="#ee3340"/>
<rect x="975" y="491" width="3" height="5" fill="#ee3340"/>
<rect x="980" y="485" width="1" height="14" fill="#2490fa"/>
<rect x="979" y="492" width="3" height="4" fill="#2490fa"/>
<rect x="984" y="487" width="1" height="13" fill="#2490fa"/>
<rect x="983" y="488" width="3" height="5" fill="#2490fa"/>
<rect x="988" y="473" width="1" height="18" fill="#2490fa"/>
<rect x="987" y="474" width="3" height="16" fill="#2490fa"/>
<rect x="992" y="474" width="1" height="94" fill="#ee3340"/>
<rect x="991" y="474" width="3" height="64" fill="#ee3340"/>
<rect x="996" y="536" width="1" height="35" fill="#ee3340"/>
<rect x="995" y="537" width="3" height="23" fill="#ee3340"/>
<rect x="1000" y="495" width="1" height="66" fill="#2490fa"/>
<rect x="999" y="506" width="3" height="53" fill="#2490fa"/>
<rect x="1004" y="492" width="1" height="21" fill="#00e000"/>
<rect x="1003" y="506" width="3" height="3" fill="#00e000"/>
<rect x="1008" y="491" width="1" height="19" fill="#2490fa"/>
<rect x="1007" y="496" width="3" height="11" fill="#2490fa"/>
<rect x="1012" y="472" width="1" height="27" fill="#2490fa"/>
<rect x="1011" y="477" width="3" height="20" fill="#2490fa"/>
<rect x="1016" y="454" width="1" height="28" fill="#ee3340"/>
<rect x="1015" y="477" width="3" height="5" fill="#ee3340"/>
<rect x="1020" y="460" width="1" height="30" fill="#2490fa"/>
<rect x="1019" y="479" width="3" height="3" fill="#2490fa"/>
<rect x="1024" y="426" width="1" height="66" fill="#2490fa"/>
<rect x="1023" y="438" width="3" height="43" fill="#2490fa"/>
<rect x="1028" y="422" width="1" height="36" fill="#2490fa"/>
<rect x="1027" y="429" width="3" height="11" fill="#2490fa"/>
<rect x="1032" y="402" width="1" height="41" fill="#2490fa"/>
<rect x="1031" y="408" width="3" height="22" fill="#2490fa"/>
<rect x="1036" y="390" width="1" height="28" fill="#ee3340"/>
<rect x="1035" y="408" width="3" height="10" fill="#ee3340"/>
<rect x="1040" y="389" width="1" height="37" fill="#2490fa"/>
<rect x="1039" y="393" width="3" height="25" fill="#2490fa"/>
<rect x="1044" y="384" width="1" height="23" fill="#2490fa"/>
<rect x="1043" y="385" width="3" height="11" fill="#2490fa"/>
<rect x="1048" y="379" width="1" height="40" fill="#ee3340"/>
<rect x="1047" y="385" width="3" height="20" fill="#ee3340"/>
<rect x="1052" y="385" width="1" height="28" fill="#2490fa"/>
<rect x="1051" y="399" width="3" height="6" fill="#2490fa"/>
<rect x="1056" y="381" width="1" height="23" fill="#2490fa"/>
<rect x="1055" y="385" width="3" height="16" fill="#2490fa"/>
<rect x="1060" y="378" width="1" height="11" fill="#2490fa"/>
<rect x="1059" y="381" width="3" height="6" fill="#2490fa"/>
<rect x="1064" y="363" width="1" height="58" fill="#ee3340"/>
<rect x="1063" y="381" width="3" height="28" fill="#ee3340"/>
<rect x="1068" y="389" width="1" height="34" fill="#ee3340"/>
<rect x="1067" y="407" width="3" height="13" fill="#ee3340"/>
<rect x="1072" y="400" width="1" height="40" fill="#2490fa"/>
<rect x="1071" y="413" width="3" height="7" fill="#2490fa"/>
<rect x="1076" y="393" width="1" height="26" fill="#2490fa"/>
<rect x="1075" y="414" width="3" height="2" fill="#2490fa"/>
<rect x="1080" y="392" width="1" height="22" fill="#2490fa"/>
<rect x="1079" y="397" width="3" height="10" fill="#2490fa"/>
<rect x="1084" y="389" width="1" height="18" fill="#2490fa"/>
<rect x="1083" y="396" width="3" height="5" fill="#2490fa"/>
<rect x="1088" y="391" width="1" height="35" fill="#ee3340"/>
<rect x="1087" y="396" width="3" height="9" fill="#ee3340"/>
<rect x="1092" y="393" width="1" height="37" fill="#ee3340"/>
<rect x="1091" y="402" width="3" height="5" fill="#ee3340"/>
<rect x="1096" y="403" width="1" height="26" fill="#ee3340"/>
<rect x="1095" y="404" width="3" height="12" fill="#ee3340"/>
<rect x="1100" y="414" width="1" height="15" fill="#ee3340"/>
<rect x="1099" y="415" width="3" height="12" fill="#ee3340"/>
<rect x="1104" y="414" width="1" height="16" fill="#2490fa"/>
<rect x="1103" y="416" width="3" height="14" fill="#2490fa"/>
<rect x="1108" y="416" width="1" height="27" fill="#ee3340"/>
<rect x="1107" y="416" width="3" height="22" fill="#ee3340"/>
<rect x="1112" y="432" width="1" height="24" fill="#ee3340"/>
<rect x="1111" y="436" width="3" height="14" fill="#ee3340"/>
<rect x="1116" y="434" width="1" height="29" fill="#2490fa"/>
<rect x="1115" y="442" width="3" height="8" fill="#2490fa"/>
<rect x="1120" y="431" width="1" height="36" fill="#ee3340"/>
<rect x="1119" y="442" width="3" height="14" fill="#ee3340"/>
<rect x="1124" y="451" width="1" height="13" fill="#ee3340"/>
<rect x="1123" y="454" width="3" height="7" fill="#ee3340"/>
<rect x="1128" y="453" width="1" height="12" fill="#2490fa"/>
<rect x="1127" y="455" width="3" height="5" fill="#2490fa"/>
<rect x="1132" y="448" width="1" height="12" fill="#2490fa"/>
<rect x="1131" y="448" width="3" height="9" fill="#2490fa"/>
<rect x="1136" y="441" width="1" height="71" fill="#ee3340"/>
<rect x="1135" y="448" width="3" height="56" fill="#ee3340"/>
<rect x="1140" y="485" width="1" height="34" fill="#2490fa"/>
<rect x="1139" y="500" width="3" height="4" fill="#2490fa"/>
<rect x="1144" y="451" width="1" height="58" fill="#2490fa"/>
<rect x="1143" y="456" width="3" height="45" fill="#2490fa"/>
<rect x="1148" y="454" width="1" height="20" fill="#ee3340"/>
<rect x="1147" y="456" width="3" height="18" fill="#ee3340"/>
<rect x="1152" y="467" width="1" height="21" fill="#ee3340"/>
<rect x="1151" y="470" width="3" height="12" fill="#ee3340"/>
<rect x="1156" y="477" width="1" height="20" fill="#ee3340"/>
<rect x="1155" y="479" width="3" height="9" fill="#ee3340"/>
<rect x="1160" y="469" width="1" height="19" fill="#2490fa"/>
<rect x="1159" y="476" width="3" height="12" fill="#2490fa"/>
<rect x="1164" y="470" width="1" height="29" fill="#ee3340"/>
<rect x="1163" y="476" width="3" height="7" fill="#ee3340"/>
<rect x="1168" y="478" width="1" height="36" fill="#ee3340"/>
<rect x="1167" y="482" width="3" height="30" fill="#ee3340"/>
<rect x="1172" y="495" width="1" height="22" fill="#2490fa"/>
<rect x="1171" y="500" width="3" height="13" fill="#2490fa"/>
<rect x="1176" y="492" width="1" height="16" fill="#2490fa"/>
<rect x="1175" y="494" width="3" height="13" fill="#2490fa"/>
<rect x="1180" y="493" width="1" height="15" fill="#ee3340"/>
<rect x="1179" y="494" width="3" height="11" fill="#ee3340"/>
<rect x="1184" y="491" width="1" height="24" fill="#ee3340"/>
<rect x="1183" y="503" width="3" height="1" fill="#ee3340"/>
<rect x="1188" y="458" width="1" height="65" fill="#2490fa"/>
<rect x="1187" y="479" width="3" height="25" fill="#2490fa"/>
<rect x="1192" y="467" width="1" height="68" fill="#ee3340"/>
<rect x="1191" y="479" width="3" height="48" fill="#ee3340"/>
<rect x="1196" y="508" width="1" height="20" fill="#2490fa"/>
<rect x="1195" y="517" width="3" height="10" fill="#2490fa"/>
<rect x="1200" y="496" width="1" height="13" fill="#2490fa"/>
<rect x="1199" y="500" width="3" height="4" fill="#2490fa"/>
<rect x="1204" y="489" width="1" height="22" fill="#ee3340"/>
<rect x="1203" y="500" width="3" height="9" fill="#ee3340"/>
<rect x="1208" y="489" width="1" height="25" fill="#2490fa"/>
<rect x="1207" y="496" width="3" height="13" fill="#2490fa"/>
<rect x="1212" y="472" width="1" height="28" fill="#2490fa"/>
<rect x="1211" y="478" width="3" height="20" fill="#2490fa"/>
<rect x="1216" y="475" width="1" height="34" fill="#ee3340"/>
<rect x="1215" y="478" width="3" height="12" fill="#ee3340"/>
<rect x="1220" y="486" width="1" height="15" fill="#2490fa"/>
<rect x="1219" y="489" width="3" height="3" fill="#2490fa"/>
<rect x="1224" y="473" width="1" height="21" fill="#2490fa"/>
<rect x="1223" y="475" width="3" height="19" fill="#2490fa"/>
<rect x="1228" y="459" width="1" height="19" fill="#2490fa"/>
<rect x="1227" y="461" width="3" height="17" fill="#2490fa"/>
<rect x="1232" y="456" width="1" height="67" fill="#ee3340"/>
<rect x="1231" y="461" width="3" height="56" fill="#ee3340"/>
<rect x="1236" y="514" width="1" height="29" fill="#ee3340"/>
<rect x="1235" y="516" width="3" height="22" fill="#ee3340"/>
<rect x="1240" y="531" width="1" height="42" fill="#2490fa"/>
<rect x="1239" y="532" width="3" height="6" fill="#2490fa"/>
<rect x="1244" y="531" width="1" height="23" fill="#ee3340"/>
<rect x="1243" y="532" width="3" height="21" fill="#ee3340"/>
<rect x="1248" y="540" width="1" height="14" fill="#2490fa"/>
<rect x="1247" y="548" width="3" height="5" fill="#2490fa"/>
<rect x="1252" y="546" width="1" height="25" fill="#ee3340"/>
<rect x="1251" y="548" width="3" height="22" fill="#ee3340"/>
<rect x="1256" y="567" width="1" height="42" fill="#ee3340"/>
<rect x="1255" y="570" width="3" height="38" fill="#ee3340"/>
<rect x="1260" y="589" width="1" height="31" fill="#ee3340"/>
<rect x="1259" y="607" width="3" height="7" fill="#ee3340"/>
<rect x="1264" y="572" width="1" height="49" fill="#2490fa"/>
<rect x="1263" y="589" width="3" height="25" fill="#2490fa"/>
<rect x="1268" y="587" width="1" height="86" fill="#ee3340"/>
<rect x="1267" y="590" width="3" height="34" fill="#ee3340"/>
<rect x="1272" y="608" width="1" height="28" fill="#2490fa"/>
<rect x="1271" y="612" width="3" height="14" fill="#2490fa"/>
<rect x="1276" y="598" width="1" height="22" fill="#2490fa"/>
<rect x="1275" y="599" width="3" height="14" fill="#2490fa"/>
<rect x="1280" y="598" width="1" height="32" fill="#ee3340"/>
<rect x="1279" y="600" width="3" height="10" fill="#ee3340"/>
<rect x="1284" y="607" width="1" height="70" fill="#ee3340"/>
<rect x="1283" y="608" width="3" height="67" fill="#ee3340"/>
<rect x="1288" y="633" width="1" height="62" fill="#2490fa"/>
<rect x="1287" y="656" width="3" height="19" fill="#2490fa"/>
<rect x="1292" y="653" width="1" height="19" fill="#ee3340"/>
<rect x="1291" y="656" width="3" height="12" fill="#ee3340"/>
<rect x="1296" y="651" width="1" height="18" fill="#2490fa"/>
<rect x="1295" y="652" width="3" height="16" fill="#2490fa"/>
<rect x="1300" y="648" width="1" height="13" fill="#ee3340"/>
<rect x="1299" y="652" width="3" height="5" fill="#ee3340"/>
<rect x="1304" y="655" width="1" height="32" fill="#ee3340"/>
<rect x="1303" y="655" width="3" height="17" fill="#ee3340"/>
<rect x="1308" y="664" width="1" height="42" fill="#ee3340"/>
<rect x="1307" y="670" width="3" height="34" fill="#ee3340"/>
<rect x="1312" y="668" width="1" height="44" fill="#2490fa"/>
<rect x="1311" y="682" width="3" height="22" fill="#2490fa"/>
<rect x="1316" y="661" width="1" height="27" fill="#2490fa"/>
<rect x="1315" y="666" width="3" height="18" fill="#2490fa"/>
<rect x="1320" y="668" width="1" height="18" fill="#2490fa"/>
<rect x="1319" y="676" width="3" height="9" fill="#2490fa"/>
<rect x="1324" y="668" width="1" height="11" fill="#2490fa"/>
<rect x="1323" y="668" width="3" height="9" fill="#2490fa"/>
</g>
<g shape-rendering="crispEdges" fill="#33cc66">
<rect x="-1" y="800" width="3" height="15"/>
<rect x="3" y="800" width="3" height="15"/>
<rect x="7" y="802" width="3" height="13"/>
<rect x="11" y="803" width="3" height="12"/>
<rect x="15" y="806" width="3" height="9"/>
<rect x="19" y="808" width="3" height="7"/>
<rect x="23" y="810" width="3" height="5"/>
<rect x="27" y="812" width="3" height="3"/>
<rect x="31" y="812" width="3" height="3"/>
<rect x="35" y="813" width="3" height="2"/>
<rect x="39" y="815" width="3" height="1"/>
<rect x="43" y="815" width="3" height="2"/>
<rect x="47" y="815" width="3" height="4"/>
<rect x="51" y="815" width="3" height="5"/>
<rect x="55" y="815" width="3" height="5"/>
<rect x="59" y="815" width="3" height="5"/>
<rect x="63" y="815" width="3" height="7"/>
<rect x="67" y="815" width="3" height="8"/>
<rect x="71" y="815" width="3" height="10"/>
<rect x="75" y="815" width="3" height="10"/>
<rect x="79" y="815" width="3" height="10"/>
<rect x="83" y="815" width="3" height="10"/>
<rect x="87" y="815" width="3" height="10"/>
<rect x="91" y="815" width="3" height="10"/>
<rect x="95" y="815" width="3" height="10"/>
<rect x="99" y="815" width="3" height="10"/>
<rect x="103" y="815" width="3" height="10"/>
<rect x="107" y="815" width="3" height="10"/>
<rect x="111" y="815" width="3" height="10"/>
<rect x="115" y="815" width="3" height="7"/>
<rect x="119" y="815" width="3" height="4"/>
<rect x="123" y="815" width="3" height="2"/>
<rect x="127" y="814" width="3" height="1"/>
<rect x="131" y="813" width="3" height="2"/>
<rect x="135" y="813" width="3" height="2"/>
<rect x="139" y="814" width="3" height="1"/>
<rect x="143" y="814" width="3" height="1"/>
<rect x="147" y="815" width="3" height="2"/>
<rect x="155" y="814" width="3" height="1"/>
<rect x="159" y="815" width="3" height="1"/>
<rect x="171" y="815" width="3" height="2"/>
<rect x="175" y="815" width="3" height="3"/>
<rect x="179" y="815" width="3" height="3"/>
<rect x="183" y="815" width="3" height="0"/>
<rect x="187" y="814" width="3" height="1"/>
<rect x="191" y="813" width="3" height="2"/>
<rect x="195" y="812" width="3" height="3"/>
<rect x="199" y="812" width="3" height="3"/>
<rect x="203" y="810" width="3" height="5"/>
<rect x="207" y="810" width="3" height="5"/>
<rect x="211" y="809" width="3" height="6"/>
<rect x="215" y="809" width="3" height="6"/>
<rect x="219" y="809" width="3" height="6"/>
<rect x="223" y="810" width="3" height="5"/>
<rect x="227" y="812" width="3" height="3"/>
<rect x="231" y="812" width="3" height="3"/>
<rect x="235" y="812" width="3" height="3"/>
<rect x="239" y="810" width="3" height="5"/>
<rect x="243" y="810" width="3" height="5"/>
<rect x="247" y="809" width="3" height="6"/>
<rect x="251" y="808" width="3" height="7"/>
<rect x="255" y="807" width="3" height="8"/>
<rect x="259" y="806" width="3" height="9"/>
<rect x="263" y="806" width="3" height="9"/>
<rect x="267" y="806" width="3" height="9"/>
<rect x="271" y="812" width="3" height="3"/>
<rect x="275" y="815" width="3" height="5"/>
<rect x="279" y="815" width="3" height="9"/>
<rect x="283" y="815" width="3" height="10"/>
<rect x="287" y="815" width="3" height="10"/>
<rect x="291" y="815" width="3" height="10"/>
<rect x="295" y="815" width="3" height="10"/>
<rect x="299" y="815" width="3" height="10"/>
<rect x="303" y="815" width="3" height="10"/>
<rect x="307" y="815" width="3" height="10"/>
<rect x="311" y="815" width="3" height="10"/>
<rect x="315" y="815" width="3" height="10"/>
<rect x="319" y="815" width="3" height="9"/>
<rect x="323" y="815" width="3" height="8"/>
<rect x="327" y="815" width="3" height="8"/>
<rect x="331" y="815" width="3" height="8"/>
<rect x="335" y="815" width="3" height="7"/>
<rect x="339" y="815" width="3" height="6"/>
<rect x="343" y="815" width="3" height="4"/>
<rect x="347" y="814" width="3" height="1"/>
<rect x="351" y="811" width="3" height="4"/>
<rect x="355" y="809" width="3" height="6"/>
<rect x="359" y="809" width="3" height="6"/>
<rect x="363" y="808" width="3" height="7"/>
<rect x="367" y="807" width="3" height="8"/>
<rect x="371" y="805" width="3" height="10"/>
<rect x="375" y="804" width="3" height="11"/>
<rect x="379" y="802" width="3" height="13"/>
<rect x="383" y="801" width="3" height="14"/>
<rect x="387" y="799" width="3" height="16"/>
<rect x="391" y="798" width="3" height="17"/>
<rect x="395" y="798" width="3" height="17"/>
<rect x="399" y="799" width="3" height="16"/>
<rect x="403" y="802" width="3" height="13"/>
<rect x="407" y="802" width="3" height="13"/>
<rect x="411" y="803" width="3" height="12"/>
<rect x="415" y="804" width="3" height="11"/>
<rect x="419" y="805" width="3" height="10"/>
<rect x="423" y="805" width="3" height="10"/>
<rect x="427" y="806" width="3" height="9"/>
<rect x="431" y="807" width="3" height="8"/>
<rect x="435" y="808" width="3" height="7"/>
<rect x="439" y="809" width="3" height="6"/>
<rect x="443" y="809" width="3" height="6"/>
<rect x="447" y="808" width="3" height="7"/>
<rect x="451" y="806" width="3" height="9"/>
<rect x="455" y="805" width="3" height="10"/>
<rect x="459" y="806" width="3" height="9"/>
<rect x="463" y="808" width="3" height="7"/>
<rect x="467" y="808" width="3" height="7"/>
<rect x="471" y="808" width="3" height="7"/>
<rect x="475" y="808" width="3" height="7"/>
<rect x="479" y="808" width="3" height="7"/>
<rect x="483" y="808" width="3" height="7"/>
<rect x="487" y="808" width="3" height="7"/>
<rect x="491" y="805" width="3" height="10"/>
<rect x="495" y="804" width="3" height="11"/>
<rect x="499" y="803" width="3" height="12"/>
<rect x="503" y="803" width="3" height="12"/>
<rect x="507" y="802" width="3" height="13"/>
<rect x="511" y="801" width="3" height="14"/>
<rect x="515" y="800" width="3" height="15"/>
<rect x="519" y="798" width="3" height="17"/>
<rect x="523" y="798" width="3" height="17"/>
<rect x="527" y="798" width="3" height="17"/>
<rect x="531" y="798" width="3" height="17"/>
<rect x="535" y="798" width="3" height="17"/>
<rect x="539" y="798" width="3" height="17"/>
<rect x="543" y="799" width="3" height="16"/>
<rect x="547" y="799" width="3" height="16"/>
<rect x="551" y="801" width="3" height="14"/>
<rect x="555" y="803" width="3" height="12"/>
<rect x="559" y="803" width="3" height="12"/>
<rect x="563" y="806" width="3" height="9"/>
<rect x="567" y="810" width="3" height="5"/>
<rect x="571" y="813" width="3" height="2"/>
<rect x="575" y="815" width="3" height="2"/>
<rect x="579" y="815" width="3" height="4"/>
<rect x="583" y="815" width="3" height="8"/>
<rect x="587" y="815" width="3" height="10"/>
<rect x="591" y="815" width="3" height="10"/>
<rect x="595" y="815" width="3" height="10"/>
<rect x="599" y="815" width="3" height="10"/>
<rect x="603" y="815" width="3" height="10"/>
<rect x="607" y="815" width="3" height="10"/>
<rect x="611" y="815" width="3" height="10"/>
<rect x="615" y="815" width="3" height="10"/>
<rect x="619" y="815" width="3" height="10"/>
<rect x="623" y="815" width="3" height="10"/>
<rect x="627" y="815" width="3" height="10"/>
<rect x="631" y="815" width="3" height="10"/>
<rect x="635" y="815" width="3" height="10"/>
<rect x="639" y="815" width="3" height="10"/>
<rect x="643" y="815" width="3" height="10"/>
<rect x="647" y="815" width="3" height="8"/>
<rect x="651" y="815" width="3" height="8"/>
<rect x="655" y="815" width="3" height="9"/>
<rect x="659" y="815" width="3" height="10"/>
<rect x="663" y="815" width="3" height="10"/>
<rect x="667" y="815" width="3" height="10"/>
<rect x="671" y="815" width="3" height="10"/>
<rect x="675" y="815" width="3" height="10"/>
<rect x="679" y="815" width="3" height="10"/>
<rect x="683" y="815" width="3" height="10"/>
<rect x="687" y="815" width="3" height="10"/>
<rect x="691" y="815" width="3" height="10"/>
<rect x="695" y="815" width="3" height="10"/>
<rect x="699" y="815" width="3" height="10"/>
<rect x="703" y="815" width="3" height="10"/>
<rect x="707" y="815" width="3" height="10"/>
<rect x="711" y="815" width="3" height="10"/>
<rect x="715" y="815" width="3" height="10"/>
<rect x="719" y="815" width="3" height="10"/>
<rect x="723" y="815" width="3" height="10"/>
<rect x="727" y="815" width="3" height="10"/>
<rect x="731" y="815" width="3" height="10"/>
<rect x="735" y="815" width="3" height="10"/>
<rect x="739" y="815" width="3" height="9"/>
<rect x="743" y="815" width="3" height="8"/>
<rect x="747" y="815" width="3" height="7"/>
<rect x="751" y="815" width="3" height="5"/>
<rect x="755" y="815" width="3" height="4"/>
<rect x="759" y="815" width="3" height="2"/>
<rect x="763" y="815" width="3" height="2"/>
<rect x="767" y="815" width="3" height="1"/>
<rect x="771" y="814" width="3" height="1"/>
<rect x="775" y="813" width="3" height="2"/>
<rect x="779" y="810" width="3" height="5"/>
<rect x="783" y="809" width="3" height="6"/>
<rect x="787" y="809" width="3" height="6"/>
<rect x="791" y="809" width="3" height="6"/>
<rect x="795" y="809" width="3" height="6"/>
<rect x="799" y="807" width="3" height="8"/>
<rect x="803" y="808" width="3" height="7"/>
<rect x="807" y="810" width="3" height="5"/>
<rect x="811" y="811" width="3" height="4"/>
<rect x="815" y="812" width="3" height="3"/>
<rect x="819" y="814" width="3" height="1"/>
<rect x="823" y="814" width="3" height="1"/>
<rect x="827" y="813" width="3" height="2"/>
<rect x="831" y="813" width="3" height="2"/>
<rect x="835" y="812" width="3" height="3"/>
<rect x="839" y="813" width="3" height="2"/>
<rect x="843" y="814" width="3" height="1"/>
<rect x="847" y="815" width="3" height="1"/>
<rect x="851" y="815" width="3" height="2"/>
<rect x="859" y="814" width="3" height="1"/>
<rect x="863" y="812" width="3" height="3"/>
<rect x="867" y="812" width="3" height="3"/>
<rect x="871" y="813" width="3" height="2"/>
<rect x="875" y="815" width="3" height="1"/>
<rect x="879" y="815" width="3" height="2"/>
<rect x="883" y="815" width="3" height="3"/>
<rect x="887" y="815" width="3" height="5"/>
<rect x="891" y="815" width="3" height="6"/>
<rect x="895" y="815" width="3" height="7"/>
<rect x="899" y="815" width="3" height="7"/>
<rect x="903" y="815" width="3" height="9"/>
<rect x="907" y="815" width="3" height="9"/>
<rect x="911" y="815" width="3" height="9"/>
<rect x="915" y="815" width="3" height="8"/>
<rect x="919" y="815" width="3" height="10"/>
<rect x="923" y="815" width="3" height="10"/>
<rect x="927" y="815" width="3" height="10"/>
<rect x="931" y="815" width="3" height="10"/>
<rect x="935" y="815" width="3" height="10"/>
<rect x="939" y="815" width="3" height="10"/>
<rect x="943" y="815" width="3" height="10"/>
<rect x="947" y="815" width="3" height="10"/>
<rect x="951" y="815" width="3" height="10"/>
<rect x="955" y="815" width="3" height="10"/>
<rect x="959" y="815" width="3" height="10"/>
<rect x="963" y="815" width="3" height="10"/>
<rect x="967" y="815" width="3" height="10"/>
<rect x="971" y="815" width="3" height="10"/>
<rect x="975" y="815" width="3" height="10"/>
<rect x="979" y="815" width="3" height="10"/>
<rect x="983" y="815" width="3" height="10"/>
<rect x="987" y="815" width="3" height="10"/>
<rect x="991" y="815" width="3" height="10"/>
<rect x="995" y="815" width="3" height="10"/>
<rect x="999" y="815" width="3" height="10"/>
<rect x="1003" y="815" width="3" height="10"/>
<rect x="1007" y="815" width="3" height="10"/>
<rect x="1011" y="815" width="3" height="10"/>
<rect x="1015" y="815" width="3" height="8"/>
<rect x="1019" y="815" width="3" height="7"/>
<rect x="1023" y="815" width="3" height="3"/>
<rect x="1027" y="814" width="3" height="1"/>
<rect x="1031" y="811" width="3" height="4"/>
<rect x="1035" y="809" width="3" height="6"/>
<rect x="1039" y="806" width="3" height="9"/>
<rect x="1043" y="804" width="3" height="11"/>
<rect x="1047" y="803" width="3" height="12"/>
<rect x="1051" y="802" width="3" height="13"/>
<rect x="1055" y="801" width="3" height="14"/>
<rect x="1059" y="800" width="3" height="15"/>
<rect x="1063" y="800" width="3" height="15"/>
<rect x="1067" y="802" width="3" height="13"/>
<rect x="1071" y="803" width="3" height="12"/>
<rect x="1075" y="803" width="3" height="12"/>
<rect x="1079" y="803" width="3" height="12"/>
<rect x="1083" y="803" width="3" height="12"/>
<rect x="1087" y="804" width="3" height="11"/>
<rect x="1091" y="805" width="3" height="10"/>
<rect x="1095" y="806" width="3" height="9"/>
<rect x="1099" y="807" width="3" height="8"/>
<rect x="1103" y="808" width="3" height="7"/>
<rect x="1107" y="810" width="3" height="5"/>
<rect x="1111" y="812" width="3" height="3"/>
<rect x="1115" y="813" width="3" height="2"/>
<rect x="1119" y="814" width="3" height="1"/>
<rect x="1123" y="815" width="3" height="2"/>
<rect x="1127" y="815" width="3" height="3"/>
<rect x="1131" y="815" width="3" height="3"/>
<rect x="1135" y="815" width="3" height="6"/>
<rect x="1139" y="815" width="3" height="9"/>
<rect x="1143" y="815" width="3" height="8"/>
<rect x="1147" y="815" width="3" height="8"/>
<rect x="1151" y="815" width="3" height="9"/>
<rect x="1155" y="815" width="3" height="9"/>
<rect x="1159" y="815" width="3" height="9"/>
<rect x="1163" y="815" width="3" height="9"/>
<rect x="1167" y="815" width="3" height="10"/>
<rect x="1171" y="815" width="3" height="10"/>
<rect x="1175" y="815" width="3" height="10"/>
<rect x="1179" y="815" width="3" height="10"/>
<rect x="1183" y="815" width="3" height="10"/>
<rect x="1187" y="815" width="3" height="10"/>
<rect x="1191" y="815" width="3" height="10"/>
<rect x="1195" y="815" width="3" height="10"/>
<rect x="1199" y="815" width="3" height="10"/>
<rect x="1203" y="815" width="3" height="10"/>
<rect x="1207" y="815" width="3" height="10"/>
<rect x="1211" y="815" width="3" height="8"/>
<rect x="1215" y="815" width="3" height="7"/>
<rect x="1219" y="815" width="3" height="7"/>
<rect x="1223" y="815" width="3" height="5"/>
<rect x="1227" y="815" width="3" height="4"/>
<rect x="1231" y="815" width="3" height="5"/>
<rect x="1235" y="815" width="3" height="8"/>
<rect x="1239" y="815" width="3" height="8"/>
<rect x="1243" y="815" width="3" height="10"/>
<rect x="1247" y="815" width="3" height="10"/>
<rect x="1251" y="815" width="3" height="10"/>
<rect x="1255" y="815" width="3" height="10"/>
<rect x="1259" y="815" width="3" height="10"/>
<rect x="1263" y="815" width="3" height="10"/>
<rect x="1267" y="815" width="3" height="10"/>
<rect x="1271" y="815" width="3" height="10"/>
<rect x="1275" y="815" width="3" height="10"/>
<rect x="1279" y="815" width="3" height="10"/>
<rect x="1283" y="815" width="3" height="10"/>
<rect x="1287" y="815" width="3" height="10"/>
<rect x="1291" y="815" width="3" height="10"/>
<rect x="1295" y="815" width="3" height="10"/>
<rect x="1299" y="815" width="3" height="10"/>
<rect x="1303" y="815" width="3" height="10"/>
<rect x="1307" y="815" width="3" height="10"/>
<rect x="1311" y="815" width="3" height="10"/>
<rect x="1315" y="815" width="3" height="10"/>
<rect x="1319" y="815" width="3" height="10"/>
<rect x="1323" y="815" width="3" height="10"/>
</g>
<g fill="#e8283c" shape-rendering="crispEdges">
<rect x="0" y="798" width="11" height="1"/>
<rect x="10" y="799" width="4" height="1"/>
<rect x="13" y="800" width="4" height="1"/>
<rect x="17" y="801" width="3" height="1"/>
<rect x="20" y="802" width="3" height="1"/>
<rect x="23" y="803" width="3" height="1"/>
<rect x="25" y="804" width="4" height="1"/>
<rect x="28" y="805" width="3" height="1"/>
<rect x="31" y="806" width="3" height="1"/>
<rect x="34" y="807" width="3" height="1"/>
<rect x="36" y="808" width="3" height="1"/>
<rect x="39" y="809" width="3" height="1"/>
<rect x="41" y="810" width="3" height="1"/>
<rect x="44" y="811" width="3" height="1"/>
<rect x="46" y="812" width="4" height="1"/>
<rect x="49" y="813" width="3" height="1"/>
<rect x="52" y="814" width="3" height="1"/>
<rect x="55" y="815" width="4" height="1"/>
<rect x="58" y="816" width="5" height="1"/>
<rect x="62" y="817" width="4" height="1"/>
<rect x="65" y="818" width="5" height="1"/>
<rect x="70" y="819" width="4" height="1"/>
<rect x="74" y="820" width="4" height="1"/>
<rect x="78" y="821" width="5" height="1"/>
<rect x="82" y="822" width="6" height="1"/>
<rect x="88" y="823" width="6" height="1"/>
<rect x="94" y="824" width="6" height="1"/>
<rect x="124" y="824" width="4" height="1"/>
<rect x="128" y="823" width="2" height="1"/>
<rect x="130" y="822" width="2" height="1"/>
<rect x="132" y="821" width="2" height="1"/>
<rect x="134" y="820" width="2" height="1"/>
<rect x="136" y="819" width="1" height="1"/>
<rect x="136" y="820" width="1" height="1"/>
<rect x="137" y="819" width="1" height="1"/>
<rect x="138" y="818" width="1" height="1"/>
<rect x="138" y="819" width="1" height="1"/>
<rect x="139" y="818" width="1" height="1"/>
<rect x="140" y="817" width="1" height="1"/>
<rect x="140" y="818" width="1" height="1"/>
<rect x="141" y="817" width="2" height="1"/>
<rect x="143" y="816" width="2" height="1"/>
<rect x="145" y="815" width="11" height="1"/>
<rect x="156" y="814" width="1" height="1"/>
<rect x="156" y="815" width="1" height="1"/>
<rect x="157" y="814" width="12" height="1"/>
<rect x="168" y="815" width="20" height="1"/>
<rect x="188" y="816" width="8" height="1"/>
<rect x="196" y="815" width="1" height="1"/>
<rect x="196" y="816" width="1" height="1"/>
<rect x="197" y="815" width="9" height="1"/>
<rect x="206" y="814" width="3" height="1"/>
<rect x="209" y="813" width="3" height="1"/>
<rect x="212" y="812" width="3" height="1"/>
<rect x="215" y="811" width="3" height="1"/>
<rect x="218" y="810" width="45" height="1"/>
<rect x="263" y="809" width="3" height="1"/>
<rect x="266" y="808" width="9" height="1"/>
<rect x="275" y="809" width="3" height="1"/>
<rect x="277" y="810" width="3" height="1"/>
<rect x="279" y="811" width="3" height="1"/>
<rect x="281" y="812" width="3" height="1"/>
<rect x="284" y="813" width="2" height="1"/>
<rect x="286" y="814" width="2" height="1"/>
<rect x="288" y="815" width="2" height="1"/>
<rect x="289" y="816" width="2" height="1"/>
<rect x="291" y="817" width="2" height="1"/>
<rect x="292" y="818" width="2" height="1"/>
<rect x="294" y="819" width="1" height="1"/>
<rect x="294" y="820" width="2" height="1"/>
<rect x="296" y="821" width="2" height="1"/>
<rect x="297" y="822" width="2" height="1"/>
<rect x="299" y="823" width="2" height="1"/>
<rect x="300" y="824" width="3" height="1"/>
<rect x="332" y="824" width="4" height="1"/>
<rect x="336" y="823" width="3" height="1"/>
<rect x="339" y="822" width="1" height="1"/>
<rect x="339" y="823" width="1" height="1"/>
<rect x="340" y="822" width="3" height="1"/>
<rect x="343" y="821" width="1" height="1"/>
<rect x="343" y="822" width="1" height="1"/>
<rect x="344" y="821" width="2" height="1"/>
<rect x="346" y="820" width="1" height="1"/>
<rect x="346" y="821" width="1" height="1"/>
<rect x="347" y="820" width="2" height="1"/>
<rect x="349" y="819" width="1" height="1"/>
<rect x="349" y="820" width="1" height="1"/>
<rect x="350" y="819" width="3" height="1"/>
<rect x="353" y="818" width="3" height="1"/>
<rect x="356" y="817" width="1" height="1"/>
<rect x="356" y="818" width="1" height="1"/>
<rect x="357" y="817" width="2" height="1"/>
<rect x="359" y="816" width="1" height="1"/>
<rect x="359" y="817" width="1" height="1"/>
<rect x="360" y="816" width="3" height="1"/>
<rect x="363" y="815" width="3" height="1"/>
<rect x="366" y="814" width="2" height="1"/>
<rect x="368" y="813" width="2" height="1"/>
<rect x="370" y="812" width="1" height="1"/>
<rect x="370" y="813" width="1" height="1"/>
<rect x="371" y="812" width="1" height="1"/>
<rect x="372" y="811" width="2" height="1"/>
<rect x="374" y="810" width="1" height="1"/>
<rect x="374" y="811" width="1" height="1"/>
<rect x="375" y="810" width="1" height="1"/>
<rect x="376" y="809" width="1" height="1"/>
<rect x="376" y="810" width="1" height="1"/>
<rect x="377" y="809" width="2" height="1"/>
<rect x="379" y="808" width="2" height="1"/>
<rect x="381" y="807" width="1" height="1"/>
<rect x="381" y="808" width="1" height="1"/>
<rect x="382" y="807" width="2" height="1"/>
<rect x="384" y="806" width="2" height="1"/>
<rect x="386" y="805" width="1" height="1"/>
<rect x="386" y="806" width="1" height="1"/>
<rect x="387" y="805" width="2" height="1"/>
<rect x="389" y="804" width="3" height="1"/>
<rect x="392" y="803" width="2" height="1"/>
<rect x="394" y="802" width="1" height="1"/>
<rect x="394" y="803" width="1" height="1"/>
<rect x="395" y="802" width="2" height="1"/>
<rect x="397" y="801" width="1" height="1"/>
<rect x="397" y="802" width="1" height="1"/>
<rect x="398" y="801" width="4" height="1"/>
<rect x="402" y="800" width="15" height="1"/>
<rect x="416" y="801" width="8" height="1"/>
<rect x="423" y="802" width="5" height="1"/>
<rect x="427" y="803" width="5" height="1"/>
<rect x="431" y="804" width="4" height="1"/>
<rect x="435" y="805" width="4" height="1"/>
<rect x="439" y="806" width="6" height="1"/>
<rect x="445" y="807" width="52" height="1"/>
<rect x="497" y="806" width="6" height="1"/>
<rect x="503" y="805" width="1" height="1"/>
<rect x="503" y="806" width="1" height="1"/>
<rect x="504" y="805" width="11" height="1"/>
<rect x="515" y="804" width="1" height="1"/>
<rect x="515" y="805" width="1" height="1"/>
<rect x="516" y="804" width="3" height="1"/>
<rect x="519" y="803" width="1" height="1"/>
<rect x="519" y="804" width="1" height="1"/>
<rect x="520" y="803" width="2" height="1"/>
<rect x="522" y="802" width="1" height="1"/>
<rect x="522" y="803" width="1" height="1"/>
<rect x="523" y="802" width="3" height="1"/>
<rect x="526" y="801" width="1" height="1"/>
<rect x="526" y="802" width="1" height="1"/>
<rect x="527" y="801" width="3" height="1"/>
<rect x="530" y="800" width="4" height="1"/>
<rect x="534" y="799" width="1" height="1"/>
<rect x="534" y="800" width="1" height="1"/>
<rect x="535" y="799" width="4" height="1"/>
<rect x="539" y="798" width="1" height="1"/>
<rect x="539" y="799" width="1" height="1"/>
<rect x="540" y="798" width="18" height="1"/>
<rect x="557" y="799" width="7" height="1"/>
<rect x="563" y="800" width="5" height="1"/>
<rect x="567" y="801" width="3" height="1"/>
<rect x="570" y="802" width="3" height="1"/>
<rect x="572" y="803" width="2" height="1"/>
<rect x="574" y="804" width="2" height="1"/>
<rect x="575" y="805" width="2" height="1"/>
<rect x="576" y="806" width="2" height="1"/>
<rect x="578" y="807" width="2" height="1"/>
<rect x="579" y="808" width="2" height="1"/>
<rect x="581" y="809" width="2" height="1"/>
<rect x="583" y="810" width="2" height="1"/>
<rect x="584" y="811" width="2" height="1"/>
<rect x="585" y="812" width="3" height="1"/>
<rect x="587" y="813" width="2" height="1"/>
<rect x="589" y="814" width="2" height="1"/>
<rect x="590" y="815" width="2" height="1"/>
<rect x="592" y="816" width="1" height="1"/>
<rect x="593" y="817" width="2" height="1"/>
<rect x="594" y="818" width="2" height="1"/>
<rect x="595" y="819" width="2" height="1"/>
<rect x="596" y="820" width="2" height="1"/>
<rect x="598" y="821" width="1" height="1"/>
<rect x="599" y="822" width="2" height="1"/>
<rect x="600" y="823" width="2" height="1"/>
<rect x="602" y="824" width="2" height="1"/>
<rect x="752" y="824" width="2" height="1"/>
<rect x="754" y="823" width="1" height="1"/>
<rect x="754" y="824" width="1" height="1"/>
<rect x="755" y="823" width="2" height="1"/>
<rect x="757" y="822" width="1" height="1"/>
<rect x="757" y="823" width="1" height="1"/>
<rect x="758" y="822" width="1" height="1"/>
<rect x="759" y="821" width="1" height="1"/>
<rect x="759" y="822" width="1" height="1"/>
<rect x="760" y="821" width="2" height="1"/>
<rect x="762" y="820" width="1" height="1"/>
<rect x="762" y="821" width="1" height="1"/>
<rect x="763" y="820" width="2" height="1"/>
<rect x="765" y="819" width="3" height="1"/>
<rect x="768" y="818" width="1" height="1"/>
<rect x="768" y="819" width="1" height="1"/>
<rect x="769" y="818" width="3" height="1"/>
<rect x="772" y="817" width="1" height="1"/>
<rect x="772" y="818" width="1" height="1"/>
<rect x="773" y="817" width="3" height="1"/>
<rect x="776" y="816" width="4" height="1"/>
<rect x="780" y="815" width="2" height="1"/>
<rect x="782" y="814" width="1" height="1"/>
<rect x="782" y="815" width="1" height="1"/>
<rect x="783" y="814" width="1" height="1"/>
<rect x="784" y="813" width="1" height="1"/>
<rect x="784" y="814" width="1" height="1"/>
<rect x="785" y="813" width="3" height="1"/>
<rect x="788" y="812" width="5" height="1"/>
<rect x="793" y="811" width="6" height="1"/>
<rect x="799" y="810" width="5" height="1"/>
<rect x="804" y="809" width="1" height="1"/>
<rect x="804" y="810" width="1" height="1"/>
<rect x="805" y="809" width="16" height="1"/>
<rect x="820" y="810" width="6" height="1"/>
<rect x="826" y="811" width="8" height="1"/>
<rect x="833" y="812" width="9" height="1"/>
<rect x="841" y="813" width="9" height="1"/>
<rect x="849" y="814" width="7" height="1"/>
<rect x="856" y="813" width="19" height="1"/>
<rect x="875" y="814" width="15" height="1"/>
<rect x="890" y="815" width="5" height="1"/>
<rect x="895" y="816" width="3" height="1"/>
<rect x="898" y="817" width="3" height="1"/>
<rect x="901" y="818" width="3" height="1"/>
<rect x="904" y="819" width="3" height="1"/>
<rect x="907" y="820" width="6" height="1"/>
<rect x="912" y="821" width="8" height="1"/>
<rect x="920" y="822" width="4" height="1"/>
<rect x="924" y="823" width="4" height="1"/>
<rect x="927" y="824" width="4" height="1"/>
<rect x="1021" y="824" width="3" height="1"/>
<rect x="1024" y="823" width="1" height="1"/>
<rect x="1024" y="824" width="1" height="1"/>
<rect x="1025" y="823" width="2" height="1"/>
<rect x="1027" y="822" width="2" height="1"/>
<rect x="1029" y="821" width="1" height="1"/>
<rect x="1029" y="822" width="1" height="1"/>
<rect x="1030" y="821" width="2" height="1"/>
<rect x="1032" y="820" width="2" height="1"/>
<rect x="1034" y="819" width="1" height="1"/>
<rect x="1034" y="820" width="1" height="1"/>
<rect x="1035" y="819" width="2" height="1"/>
<rect x="1037" y="818" width="2" height="1"/>
<rect x="1039" y="817" width="1" height="1"/>
<rect x="1039" y="818" width="1" height="1"/>
<rect x="1040" y="817" width="1" height="1"/>
<rect x="1041" y="816" width="1" height="1"/>
<rect x="1041" y="817" width="1" height="1"/>
<rect x="1042" y="816" width="1" height="1"/>
<rect x="1043" y="815" width="2" height="1"/>
<rect x="1045" y="814" width="1" height="1"/>
<rect x="1046" y="813" width="1" height="1"/>
<rect x="1046" y="814" width="1" height="1"/>
<rect x="1047" y="812" width="1" height="1"/>
<rect x="1047" y="813" width="1" height="1"/>
<rect x="1048" y="812" width="1" height="1"/>
<rect x="1049" y="811" width="1" height="1"/>
<rect x="1049" y="812" width="1" height="1"/>
<rect x="1050" y="811" width="1" height="1"/>
<rect x="1051" y="810" width="1" height="1"/>
<rect x="1052" y="809" width="1" height="1"/>
<rect x="1052" y="810" width="1" height="1"/>
<rect x="1053" y="809" width="1" height="1"/>
<rect x="1054" y="808" width="1" height="1"/>
<rect x="1054" y="809" width="1" height="1"/>
<rect x="1055" y="808" width="1" height="1"/>
<rect x="1056" y="807" width="1" height="1"/>
<rect x="1057" y="806" width="1" height="1"/>
<rect x="1058" y="805" width="1" height="1"/>
<rect x="1058" y="806" width="1" height="1"/>
<rect x="1059" y="805" width="2" height="1"/>
<rect x="1061" y="804" width="4" height="1"/>
<rect x="1065" y="803" width="4" height="1"/>
<rect x="1069" y="802" width="1" height="1"/>
<rect x="1069" y="803" width="1" height="1"/>
<rect x="1070" y="802" width="22" height="1"/>
<rect x="1091" y="803" width="7" height="1"/>
<rect x="1097" y="804" width="6" height="1"/>
<rect x="1103" y="805" width="9" height="1"/>
<rect x="1112" y="806" width="3" height="1"/>
<rect x="1115" y="807" width="3" height="1"/>
<rect x="1118" y="808" width="3" height="1"/>
<rect x="1121" y="809" width="3" height="1"/>
<rect x="1124" y="810" width="4" height="1"/>
<rect x="1127" y="811" width="3" height="1"/>
<rect x="1130" y="812" width="3" height="1"/>
<rect x="1133" y="813" width="3" height="1"/>
<rect x="1136" y="814" width="3" height="1"/>
<rect x="1138" y="815" width="4" height="1"/>
<rect x="1141" y="816" width="4" height="1"/>
<rect x="1144" y="817" width="5" height="1"/>
<rect x="1148" y="818" width="5" height="1"/>
<rect x="1152" y="819" width="5" height="1"/>
<rect x="1156" y="820" width="4" height="1"/>
<rect x="1160" y="821" width="4" height="1"/>
<rect x="1163" y="822" width="3" height="1"/>
<rect x="1166" y="823" width="9" height="1"/>
<rect x="1174" y="824" width="19" height="1"/>
<rect x="1211" y="824" width="9" height="1"/>
<rect x="1220" y="823" width="5" height="1"/>
<rect x="1225" y="822" width="1" height="1"/>
<rect x="1225" y="823" width="1" height="1"/>
<rect x="1226" y="822" width="4" height="1"/>
<rect x="1230" y="821" width="24" height="1"/>
<rect x="1253" y="822" width="4" height="1"/>
<rect x="1257" y="823" width="3" height="1"/>
<rect x="1260" y="824" width="3" height="1"/>
</g>
<!-- horizontal dashed support line -->
<line x1="-4" y1="569.5" x2="1701" y2="569.5" stroke="#ffffff" stroke-width="1" stroke-dasharray="18 6" shape-rendering="crispEdges"/>
<!-- current price line -->
<rect x="0" y="667" width="1701" height="1" fill="#7d8b9c"/>
<!-- diagonal trend line -->
<g fill="#ffffff" shape-rendering="crispEdges">
<rect x="720" y="299" width="3" height="1"/>
<rect x="723" y="300" width="5" height="1"/>
<rect x="728" y="301" width="5" height="1"/>
<rect x="733" y="302" width="5" height="1"/>
<rect x="744" y="304" width="4" height="1"/>
<rect x="748" y="305" width="5" height="1"/>
<rect x="753" y="306" width="5" height="1"/>
<rect x="758" y="307" width="4" height="1"/>
<rect x="768" y="309" width="5" height="1"/>
<rect x="773" y="310" width="5" height="1"/>
<rect x="778" y="311" width="5" height="1"/>
<rect x="783" y="312" width="3" height="1"/>
<rect x="792" y="313" width="1" height="1"/>
<rect x="793" y="314" width="5" height="1"/>
<rect x="798" y="315" width="5" height="1"/>
<rect x="803" y="316" width="5" height="1"/>
<rect x="808" y="317" width="2" height="1"/>
<rect x="816" y="318" width="2" height="1"/>
<rect x="818" y="319" width="5" height="1"/>
<rect x="823" y="320" width="5" height="1"/>
<rect x="828" y="321" width="5" height="1"/>
<rect x="833" y="322" width="1" height="1"/>
<rect x="840" y="323" width="3" height="1"/>
<rect x="843" y="324" width="5" height="1"/>
<rect x="848" y="325" width="5" height="1"/>
<rect x="853" y="326" width="5" height="1"/>
<rect x="864" y="328" width="4" height="1"/>
<rect x="868" y="329" width="5" height="1"/>
<rect x="873" y="330" width="5" height="1"/>
<rect x="878" y="331" width="4" height="1"/>
<rect x="888" y="333" width="5" height="1"/>
<rect x="893" y="334" width="5" height="1"/>
<rect x="898" y="335" width="5" height="1"/>
<rect x="903" y="336" width="3" height="1"/>
<rect x="912" y="337" width="1" height="1"/>
<rect x="913" y="338" width="5" height="1"/>
<rect x="918" y="339" width="5" height="1"/>
<rect x="923" y="340" width="5" height="1"/>
<rect x="928" y="341" width="2" height="1"/>
<rect x="936" y="342" width="2" height="1"/>
<rect x="938" y="343" width="5" height="1"/>
<rect x="943" y="344" width="5" height="1"/>
<rect x="948" y="345" width="5" height="1"/>
<rect x="953" y="346" width="1" height="1"/>
<rect x="960" y="347" width="3" height="1"/>
<rect x="963" y="348" width="5" height="1"/>
<rect x="968" y="349" width="5" height="1"/>
<rect x="973" y="350" width="5" height="1"/>
<rect x="984" y="352" width="4" height="1"/>
<rect x="988" y="353" width="5" height="1"/>
<rect x="993" y="354" width="5" height="1"/>
<rect x="998" y="355" width="4" height="1"/>
<rect x="1008" y="357" width="5" height="1"/>
<rect x="1013" y="358" width="5" height="1"/>
<rect x="1018" y="359" width="5" height="1"/>
<rect x="1023" y="360" width="3" height="1"/>
<rect x="1032" y="361" width="1" height="1"/>
<rect x="1033" y="362" width="5" height="1"/>
<rect x="1038" y="363" width="5" height="1"/>
<rect x="1043" y="364" width="5" height="1"/>
<rect x="1048" y="365" width="2" height="1"/>
<rect x="1056" y="366" width="2" height="1"/>
<rect x="1058" y="367" width="5" height="1"/>
<rect x="1063" y="368" width="5" height="1"/>
<rect x="1068" y="369" width="5" height="1"/>
<rect x="1073" y="370" width="1" height="1"/>
<rect x="1080" y="371" width="3" height="1"/>
<rect x="1083" y="372" width="5" height="1"/>
<rect x="1088" y="373" width="5" height="1"/>
<rect x="1093" y="374" width="5" height="1"/>
<rect x="1104" y="376" width="4" height="1"/>
<rect x="1108" y="377" width="5" height="1"/>
<rect x="1113" y="378" width="5" height="1"/>
<rect x="1118" y="379" width="4" height="1"/>
<rect x="1128" y="381" width="5" height="1"/>
<rect x="1133" y="382" width="5" height="1"/>
<rect x="1138" y="383" width="5" height="1"/>
<rect x="1143" y="384" width="3" height="1"/>
<rect x="1152" y="385" width="1" height="1"/>
<rect x="1153" y="386" width="5" height="1"/>
<rect x="1158" y="387" width="5" height="1"/>
<rect x="1163" y="388" width="5" height="1"/>
<rect x="1168" y="389" width="2" height="1"/>
<rect x="1176" y="390" width="2" height="1"/>
<rect x="1178" y="391" width="5" height="1"/>
<rect x="1183" y="392" width="5" height="1"/>
<rect x="1188" y="393" width="5" height="1"/>
<rect x="1193" y="394" width="1" height="1"/>
<rect x="1200" y="395" width="3" height="1"/>
<rect x="1203" y="396" width="5" height="1"/>
<rect x="1208" y="397" width="5" height="1"/>
<rect x="1213" y="398" width="5" height="1"/>
<rect x="1224" y="400" width="4" height="1"/>
<rect x="1228" y="401" width="5" height="1"/>
<rect x="1233" y="402" width="5" height="1"/>
<rect x="1238" y="403" width="4" height="1"/>
<rect x="1248" y="405" width="5" height="1"/>
<rect x="1253" y="406" width="5" height="1"/>
<rect x="1258" y="407" width="5" height="1"/>
<rect x="1263" y="408" width="3" height="1"/>
<rect x="1272" y="409" width="1" height="1"/>
<rect x="1273" y="410" width="5" height="1"/>
<rect x="1278" y="411" width="5" height="1"/>
<rect x="1283" y="412" width="5" height="1"/>
<rect x="1288" y="413" width="2" height="1"/>
<rect x="1296" y="414" width="2" height="1"/>
<rect x="1298" y="415" width="5" height="1"/>
<rect x="1303" y="416" width="5" height="1"/>
<rect x="1308" y="417" width="5" height="1"/>
<rect x="1313" y="418" width="1" height="1"/>
<rect x="1320" y="419" width="3" height="1"/>
<rect x="1323" y="420" width="5" height="1"/>
<rect x="1328" y="421" width="5" height="1"/>
<rect x="1333" y="422" width="5" height="1"/>
<rect x="1344" y="424" width="4" height="1"/>
<rect x="1348" y="425" width="5" height="1"/>
<rect x="1353" y="426" width="5" height="1"/>
<rect x="1358" y="427" width="4" height="1"/>
<rect x="1368" y="429" width="5" height="1"/>
<rect x="1373" y="430" width="5" height="1"/>
<rect x="1378" y="431" width="5" height="1"/>
<rect x="1383" y="432" width="3" height="1"/>
<rect x="1392" y="433" width="1" height="1"/>
<rect x="1393" y="434" width="5" height="1"/>
<rect x="1398" y="435" width="5" height="1"/>
<rect x="1403" y="436" width="5" height="1"/>
<rect x="1408" y="437" width="2" height="1"/>
<rect x="1416" y="438" width="2" height="1"/>
<rect x="1418" y="439" width="5" height="1"/>
<rect x="1423" y="440" width="5" height="1"/>
<rect x="1428" y="441" width="5" height="1"/>
<rect x="1433" y="442" width="1" height="1"/>
<rect x="1440" y="443" width="3" height="1"/>
<rect x="1443" y="444" width="5" height="1"/>
<rect x="1448" y="445" width="5" height="1"/>
<rect x="1453" y="446" width="5" height="1"/>
<rect x="1464" y="448" width="4" height="1"/>
<rect x="1468" y="449" width="5" height="1"/>
<rect x="1473" y="450" width="5" height="1"/>
<rect x="1478" y="451" width="4" height="1"/>
<rect x="1488" y="453" width="5" height="1"/>
<rect x="1493" y="454" width="4" height="1"/>
</g>
<!-- frame lines -->
<g shape-rendering="crispEdges">
<rect x="1701" y="59" width="1" height="722" fill="#d8d8d8"/>
<rect x="0" y="780" width="1702" height="1" fill="#ffffff"/>
<rect x="0" y="782" width="1702" height="1" fill="#ffffff"/>
<rect x="1701" y="782" width="1" height="43" fill="#d8d8d8"/>
<rect x="1702" y="784" width="3" height="1" fill="#d8d8d8"/>
<rect x="1702" y="815" width="3" height="1" fill="#d8d8d8"/>
</g>
<g font-size="12.3" fill="#f6f6f6" letter-spacing="0.3">
<rect x="1702" y="75" width="2" height="1" fill="#d8d8d8"/>
<text x="1708" y="80">1.37810</text>
<rect x="1702" y="124" width="2" height="1" fill="#d8d8d8"/>
<text x="1708" y="129">1.37280</text>
<rect x="1702" y="173" width="2" height="1" fill="#d8d8d8"/>
<text x="1708" y="178">1.36760</text>
<rect x="1702" y="222" width="2" height="1" fill="#d8d8d8"/>
<text x="1708" y="227">1.36230</text>
<rect x="1702" y="271" width="2" height="1" fill="#d8d8d8"/>
<text x="1708" y="276">1.35700</text>
<rect x="1702" y="320" width="2" height="1" fill="#d8d8d8"/>
<text x="1708" y="325">1.35170</text>
<rect x="1702" y="369" width="2" height="1" fill="#d8d8d8"/>
<text x="1708" y="374">1.34650</text>
<rect x="1702" y="418" width="2" height="1" fill="#d8d8d8"/>
<text x="1708" y="423">1.34120</text>
<rect x="1702" y="467" width="2" height="1" fill="#d8d8d8"/>
<text x="1708" y="472">1.33590</text>
<rect x="1702" y="516" width="2" height="1" fill="#d8d8d8"/>
<text x="1708" y="521">1.33060</text>
<rect x="1702" y="565" width="2" height="1" fill="#d8d8d8"/>
<text x="1708" y="570">1.32540</text>
<rect x="1702" y="614" width="2" height="1" fill="#d8d8d8"/>
<text x="1708" y="619">1.32010</text>
<rect x="1702" y="663" width="2" height="1" fill="#d8d8d8"/>
<text x="1708" y="668">1.31480</text>
<rect x="1702" y="712" width="2" height="1" fill="#d8d8d8"/>
<text x="1708" y="717">1.30960</text>
<rect x="1702" y="761" width="2" height="1" fill="#d8d8d8"/>
<text x="1708" y="766">1.30430</text>
<text x="1705.5" y="796">0.005354</text>
<text x="1705.5" y="820">0.00</text>
<text x="5.5" y="798">-0.004595</text>
<text x="-6" y="798">n</text>
</g>
<!-- price boxes -->
<g shape-rendering="crispEdges">
<rect x="1703" y="563" width="55" height="14" fill="#ffffff"/>
<rect x="1703" y="660" width="55" height="14" fill="#ffffff"/>
</g>
<g font-size="12.3" fill="#0b1e3b" letter-spacing="0.3">
<text x="1708" y="575">1.32493</text>
<text x="1708" y="672">1.31436</text>
</g>
<!-- titles -->
<g font-family="Liberation Sans, sans-serif" font-weight="bold" fill="#ffffff" stroke="#ffffff" stroke-width="0.5">
<text x="961.5" y="170" font-size="29.5" letter-spacing="0.25">GBPUSD</text>
<text x="965" y="210" font-size="29" letter-spacing="1.5">H4 Chart</text>
<text x="1360" y="423" font-size="21.5" letter-spacing="1.2">1.3370</text>
<text x="1336.5" y="565" font-size="21.5" letter-spacing="1.1">1.3240-90</text>
</g>
<text x="1423.5" y="827" font-size="21.5" letter-spacing="1.2" font-weight="bold" fill="#1e8fff" stroke="#1e8fff" stroke-width="0.5">1.2850</text>
<!-- white arrow -->
<line x1="1385.4" y1="538" x2="1399.6" y2="458" stroke="#ffffff" stroke-width="3"/>
<polygon points="1401.2,447 1403.2,447 1405.2,464 1402,464 1400.5,460 1395,464.5 1392.6,462.5 1397.5,453.5" fill="#ffffff"/>
<!-- red arrow -->
<g stroke="#ee1c24" stroke-width="2.8" fill="none">
<line x1="1414.5" y1="584.3" x2="1476.5" y2="792"/>
<polyline points="1460.7,773.8 1477.4,793.5"/>
<line x1="1477.4" y1="766.6" x2="1477.4" y2="794.5"/>
</g>
<!-- stray marks -->
<rect x="1507" y="339" width="3" height="5" fill="#000000"/>
<line x1="1448.5" y1="501" x2="1461.5" y2="505.5" stroke="#000000" stroke-width="2.2"/>
<line x1="1525.5" y1="676.5" x2="1531" y2="678.5" stroke="#ffffff" stroke-width="2.2"/>
</svg>
</body></html>
